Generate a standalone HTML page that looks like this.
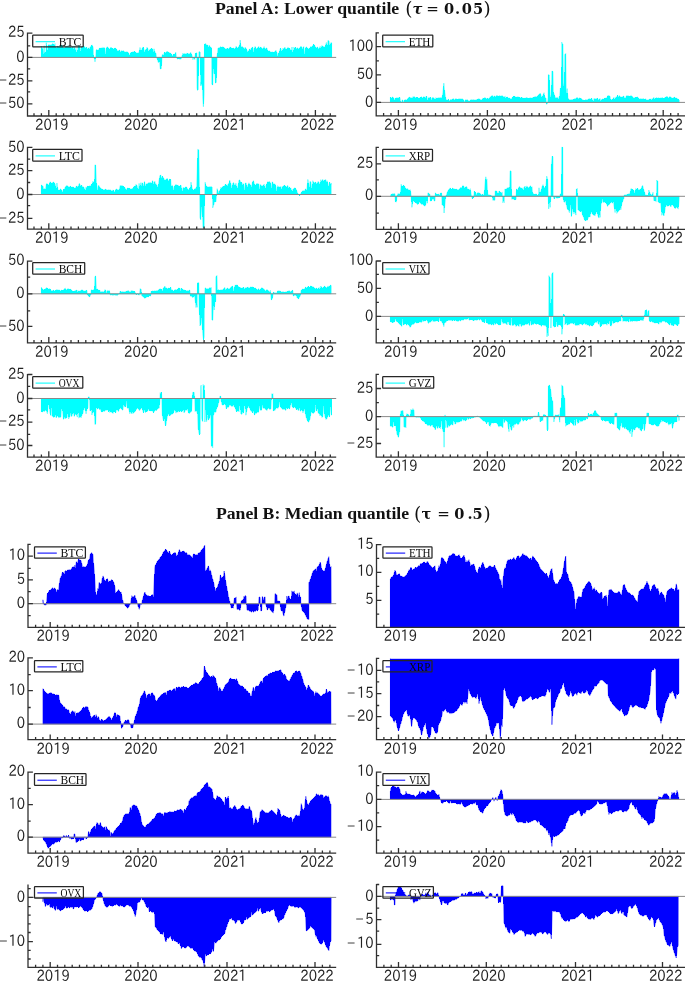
<!DOCTYPE html>
<html><head><meta charset="utf-8"><title>Quantile connectedness</title>
<style>
html,body{margin:0;padding:0;background:#fff}
svg{display:block}
.t{font-family:"Liberation Serif",serif;font-weight:bold;font-size:16.8px;fill:#111}
.m{font-family:"DejaVu Serif","Liberation Serif",serif;font-weight:bold;font-size:14.6px;fill:#111}
.n{font-family:"IPAPGothic","Noto Sans CJK SC","Liberation Sans",sans-serif;font-weight:300;font-size:15.6px;fill:#222}
.l{font-family:"Liberation Serif",serif;font-size:11.6px;fill:#0a0a0a}
.ax{stroke:#303030;stroke-width:1.3;fill:none}
.zl{stroke:#8a8a8a;stroke-width:1;fill:none}
</style></head><body>
<svg width="685" height="982" viewBox="0 0 685 982">
<rect width="685" height="982" fill="#fff"/>
<text class="t" x="215.0" y="13.8" textLength="184.2" lengthAdjust="spacingAndGlyphs">Panel A: Lower quantile</text>
<text class="m"><tspan x="405.3" y="14.6" font-weight="normal" font-size="18.5">(</tspan><tspan x="412.6" y="13.9" font-style="italic">τ</tspan><tspan x="422.5" y="13.9"> </tspan><tspan x="426.2" y="14.1" font-weight="normal" font-size="15">=</tspan><tspan x="440.0" y="13.9"> </tspan><tspan x="443.9" y="13.9">0</tspan><tspan x="455.0" y="13.9">.</tspan><tspan x="461.7" y="13.9">0</tspan><tspan x="472.9" y="13.9">5</tspan><tspan x="483.4" y="14.6" font-weight="normal" font-size="18.5">)</tspan></text>
<text class="t" x="215.9" y="519.1" textLength="193.2" lengthAdjust="spacingAndGlyphs">Panel B: Median quantile</text>
<text class="m"><tspan x="413.9" y="519.9" font-weight="normal" font-size="18.5">(</tspan><tspan x="421.4" y="519.2">τ</tspan><tspan x="433.0" y="519.2"> </tspan><tspan x="437.2" y="519.4" font-weight="normal" font-size="15">=</tspan><tspan x="451.0" y="519.2"> </tspan><tspan x="454.3" y="519.2">0</tspan><tspan x="467.6" y="519.2">.</tspan><tspan x="472.6" y="519.2">5</tspan><tspan x="483.6" y="519.9" font-weight="normal" font-size="18.5">)</tspan></text>
<g>
<path d="M41.4 57.4L41.4 57.2L41.4 46.0L41.8 51.4L42.7 47.9L43.6 54.7L44.2 45.7L44.5 53.0L45.4 51.8L45.9 51.5L46.3 42.7L47.2 53.1L48.1 45.6L49.0 44.4L49.9 46.2L50.8 44.5L51.7 44.6L52.6 43.4L53.5 44.2L54.4 44.8L55.0 43.6L55.4 46.7L56.2 48.6L57.1 46.5L58.0 46.2L58.9 47.2L59.8 46.5L60.7 46.3L61.6 45.4L62.0 45.5L62.5 46.5L63.4 48.0L64.3 47.9L65.2 48.3L66.1 46.0L67.0 47.7L67.9 45.6L68.8 48.1L69.7 47.2L70.8 47.3L71.5 48.1L72.4 46.8L73.3 49.7L74.2 45.9L75.1 51.3L76.0 48.3L76.9 55.2L77.8 48.0L78.7 45.5L79.6 46.5L80.5 50.7L81.4 47.0L82.3 48.5L83.2 46.1L84.1 46.0L84.8 46.9L85.9 48.2L86.6 47.3L87.7 48.8L88.6 48.0L89.5 49.4L90.1 47.4L91.3 45.5L92.2 45.0L93.2 47.9L93.6 57.2L94.0 58.0L94.4 58.7L95.0 61.8L95.7 58.0L96.2 50.5L96.7 49.3L97.6 50.5L98.8 49.3L99.4 48.3L100.3 48.3L101.2 48.4L102.3 47.4L103.0 49.0L103.9 47.2L104.8 48.5L105.7 55.2L106.6 47.3L107.6 46.9L108.4 48.2L109.3 49.7L110.2 48.1L111.1 47.0L112.0 48.9L112.9 48.2L113.8 49.6L114.6 48.2L115.6 48.2L116.5 49.3L117.4 50.5L118.3 50.7L119.2 50.1L120.1 50.7L121.0 53.2L121.6 50.5L122.8 51.3L123.7 50.7L124.6 51.8L125.5 52.1L126.4 51.9L127.3 52.0L128.6 52.8L129.1 55.3L130.0 55.1L130.9 52.3L131.8 52.6L132.7 52.0L133.9 52.0L134.5 51.3L135.4 52.3L136.3 52.9L137.2 53.0L138.1 53.2L139.1 51.8L140.0 48.2L140.0 47.5L140.8 51.8L141.7 49.9L142.6 47.4L143.5 47.4L144.4 52.6L145.3 49.7L146.2 50.0L147.0 47.3L148.0 49.1L148.9 52.9L149.8 49.3L150.7 49.4L151.6 48.0L152.5 49.4L153.4 52.5L154.0 48.8L155.2 53.0L155.8 53.0L156.6 57.2L157.5 59.7L158.4 62.6L158.8 61.7L159.6 61.5L160.3 68.9L161.4 68.6L161.9 58.0L162.4 54.4L163.3 55.5L164.5 52.3L165.1 52.9L166.0 52.5L167.2 51.0L167.8 52.1L168.7 52.4L169.8 52.9L170.5 53.3L171.4 53.9L172.3 56.5L173.2 54.5L174.1 54.4L175.0 54.4L175.7 52.3L176.4 56.4L177.1 58.7L177.7 59.0L178.6 58.6L179.5 59.0L180.4 59.0L181.2 59.0L182.0 56.2L182.9 53.2L184.0 54.7L184.9 53.2L185.8 54.7L186.7 53.2L187.6 53.5L188.5 53.7L189.4 53.7L190.3 52.8L190.8 52.5L191.2 53.4L192.2 56.2L192.9 59.7L193.9 57.7L194.7 59.5L195.4 53.5L196.8 52.8L197.1 88.0L197.5 90.4L198.3 89.5L198.9 52.1L199.3 51.4L200.3 52.3L200.6 85.7L201.1 82.0L201.8 85.5L202.2 78.9L202.7 96.8L203.4 106.7L204.1 93.9L204.5 44.2L205.7 43.5L206.5 45.4L207.4 45.0L208.3 47.8L209.2 45.1L210.1 47.1L211.0 47.6L211.5 47.7L211.8 84.3L212.7 84.9L213.2 64.6L213.9 73.5L215.0 73.6L215.5 83.0L216.4 82.4L217.1 56.3L218.0 48.1L219.1 48.0L220.0 47.3L220.6 46.5L221.8 47.7L222.7 46.9L223.6 47.4L224.5 48.0L225.4 48.8L226.3 49.2L227.2 48.0L228.1 49.0L229.0 49.0L229.9 47.0L231.1 47.7L231.7 48.2L232.6 48.5L233.5 48.2L234.4 48.6L235.3 48.4L236.2 46.3L237.1 49.3L238.0 47.2L239.0 47.1L239.9 43.9L240.2 40.1L240.7 45.4L241.6 47.2L242.5 46.7L243.4 47.4L244.3 49.5L245.2 47.2L246.0 48.4L247.0 50.3L247.7 52.2L248.8 50.4L249.5 49.1L250.6 49.9L251.5 47.9L252.1 47.5L252.8 47.3L253.3 53.2L254.2 48.5L255.1 46.5L256.0 48.6L256.9 49.0L258.0 47.2L258.7 46.5L259.6 48.6L260.7 47.2L261.4 47.4L262.3 48.4L263.2 48.9L264.1 46.6L265.0 50.1L265.9 48.1L266.8 48.0L267.7 50.6L268.6 51.2L269.5 50.8L270.4 52.2L271.3 52.2L272.0 52.2L273.1 52.0L273.8 52.8L274.9 51.3L275.9 50.3L276.7 51.9L277.6 56.6L278.5 53.2L279.1 52.5L280.5 48.1L281.2 49.5L282.1 52.5L283.0 48.1L283.9 49.7L284.8 47.1L285.7 49.0L286.6 49.4L287.8 47.4L288.4 47.8L289.3 48.3L290.2 48.8L291.1 53.0L292.0 47.0L292.9 55.2L293.8 47.2L294.7 48.3L295.6 47.3L296.5 48.9L297.4 47.8L298.3 48.6L299.2 48.9L300.1 47.3L301.0 46.1L301.9 47.3L302.8 49.4L303.7 46.6L304.6 55.0L305.5 47.8L306.4 46.9L307.1 47.5L308.2 49.2L309.1 48.3L310.0 48.5L310.9 46.4L311.8 47.4L312.3 46.4L313.6 44.3L314.1 45.0L314.5 45.1L315.4 47.3L316.3 47.7L317.6 47.0L318.1 48.9L319.0 48.5L320.2 46.4L320.8 50.1L321.7 45.7L322.6 46.2L323.5 46.5L324.4 47.7L325.5 45.4L326.4 42.5L327.1 49.5L328.0 40.3L329.0 41.0L329.8 46.7L330.7 42.8L331.6 42.7L331.6 57.2L331.6 57.4Z" fill="#00ffff" stroke="#00ffff" stroke-width="0.5" stroke-linejoin="round" shape-rendering="crispEdges"/>
<path class="zl" d="M27.5 57.4H336.2"/>
<path class="ax" d="M27.5 32.5V116.0H336.2M27.5 33.1h4.9M27.5 57.4h4.9M27.5 80.8h4.9M27.5 103.9h4.9M27.5 45.9h2.7M27.5 68.8h2.7M27.5 91.9h2.7M48.8 116.0v-6.0M137.6 116.0v-6.0M226.3 116.0v-6.0M315.4 116.0v-6.0M41.4 116.0v-2.8M34.0 116.0v-2.8M56.2 116.0v-2.8M63.6 116.0v-2.8M71.0 116.0v-2.8M78.4 116.0v-2.8M85.8 116.0v-2.8M93.2 116.0v-2.8M100.6 116.0v-2.8M108.0 116.0v-2.8M115.4 116.0v-2.8M122.8 116.0v-2.8M130.2 116.0v-2.8M145.0 116.0v-2.8M152.4 116.0v-2.8M159.8 116.0v-2.8M167.2 116.0v-2.8M174.6 116.0v-2.8M181.9 116.0v-2.8M189.3 116.0v-2.8M196.7 116.0v-2.8M204.1 116.0v-2.8M211.5 116.0v-2.8M218.9 116.0v-2.8M233.7 116.0v-2.8M241.2 116.0v-2.8M248.6 116.0v-2.8M256.0 116.0v-2.8M263.4 116.0v-2.8M270.9 116.0v-2.8M278.3 116.0v-2.8M285.7 116.0v-2.8M293.1 116.0v-2.8M300.5 116.0v-2.8M308.0 116.0v-2.8M322.8 116.0v-2.8M330.3 116.0v-2.8"/>
<text class="n" x="8.0" y="37.2" textLength="16.6" lengthAdjust="spacingAndGlyphs">25</text>
<text class="n" x="16.3" y="61.5" textLength="8.3" lengthAdjust="spacingAndGlyphs">0</text>
<text class="n" y="84.9"><tspan x="-1.3" textLength="8.3" lengthAdjust="spacingAndGlyphs">−</tspan><tspan x="8.0" textLength="16.6" lengthAdjust="spacingAndGlyphs">25</tspan></text>
<text class="n" y="108.0"><tspan x="-1.3" textLength="8.3" lengthAdjust="spacingAndGlyphs">−</tspan><tspan x="8.0" textLength="16.6" lengthAdjust="spacingAndGlyphs">50</tspan></text>
<text class="n" x="35.1" y="129.8" textLength="33.4" lengthAdjust="spacingAndGlyphs">2019</text>
<text class="n" x="124.1" y="129.8" textLength="33.4" lengthAdjust="spacingAndGlyphs">2020</text>
<text class="n" x="212.7" y="129.8" textLength="33.4" lengthAdjust="spacingAndGlyphs">2021</text>
<text class="n" x="300.6" y="129.8" textLength="33.4" lengthAdjust="spacingAndGlyphs">2022</text>
<rect x="32.7" y="35.0" width="50.5" height="11.9" fill="none" stroke="#262626" stroke-width="1.25" rx="0.6"/>
<path d="M35.6 41.7h19.4" stroke="#00ffff" stroke-width="1.05" fill="none"/>
<text class="l" x="58.7" y="45.6" textLength="22.6" lengthAdjust="spacingAndGlyphs">BTC</text>
</g>
<g>
<path d="M390.4 102.4L390.4 102.1L390.4 97.2L390.9 98.0L391.8 97.9L392.9 96.9L393.6 98.2L394.5 99.7L395.4 98.3L396.7 97.9L397.2 97.9L398.1 98.0L399.0 97.6L399.9 97.4L400.9 102.9L401.7 101.7L402.4 99.8L403.5 101.7L404.4 100.1L405.4 99.6L406.2 99.8L407.1 100.5L408.0 98.0L409.2 97.3L409.8 97.4L410.7 97.6L411.6 97.9L412.5 97.7L412.9 96.6L413.4 96.9L414.3 96.7L415.2 97.4L416.1 97.8L417.0 97.1L417.9 97.8L418.8 98.4L419.7 98.0L420.6 97.4L421.5 96.9L422.4 97.7L422.9 97.4L424.2 96.7L425.1 98.3L426.0 96.6L426.6 96.0L427.8 101.1L428.7 97.4L429.6 97.9L430.4 97.0L431.4 100.3L432.3 97.5L433.2 97.7L434.1 97.9L435.0 100.5L435.9 97.6L436.8 98.7L437.9 97.6L438.6 98.0L439.5 97.8L440.4 97.5L441.6 97.8L442.2 97.0L442.9 92.8L443.8 83.2L444.8 92.5L445.8 98.7L446.7 100.3L447.6 100.1L448.5 99.3L449.4 101.2L450.3 99.6L451.2 99.5L452.1 99.5L453.0 98.8L453.9 98.8L454.8 100.9L455.3 98.8L456.6 99.0L457.5 99.5L458.4 99.1L459.3 98.9L460.2 99.0L461.1 98.9L462.0 99.3L462.8 98.9L463.8 100.4L464.7 102.0L465.6 99.7L466.5 100.0L467.4 99.8L468.3 100.5L469.2 101.2L470.3 100.2L471.0 100.0L471.9 99.5L472.8 100.0L473.7 99.6L474.6 100.0L475.5 100.0L476.4 99.6L477.3 99.8L477.8 99.0L479.1 98.8L480.0 99.6L480.9 99.6L481.8 100.3L482.7 98.3L483.6 98.5L484.5 97.6L485.3 97.9L486.3 98.6L487.2 98.4L488.1 98.5L489.0 98.9L490.3 96.7L490.8 97.3L491.7 95.7L492.6 95.7L493.5 96.5L494.4 95.9L495.3 97.1L496.2 95.7L497.1 95.4L497.8 95.9L498.9 96.5L499.8 95.4L500.7 96.6L501.6 95.8L502.8 95.9L503.4 96.9L504.3 96.9L505.2 96.2L506.1 100.5L506.5 97.2L507.0 97.0L507.9 97.4L508.8 98.3L509.7 98.2L510.2 98.6L511.5 98.7L512.4 97.3L513.3 96.6L513.7 96.4L514.0 96.5L515.1 96.4L516.0 97.4L516.9 97.2L517.8 96.9L519.0 97.3L519.6 97.5L520.5 98.0L521.4 97.0L522.3 98.0L523.2 98.3L524.1 98.4L525.2 98.2L525.9 98.1L526.8 97.3L527.7 98.2L528.6 98.5L529.5 98.2L530.4 97.9L531.5 98.2L532.2 97.9L533.1 97.5L534.0 97.4L534.9 96.7L535.8 96.5L536.7 97.0L537.7 95.9L538.5 94.7L539.4 94.7L540.2 93.1L541.2 96.0L542.0 97.4L543.0 95.2L544.0 92.7L544.8 97.0L546.0 98.4L546.5 104.2L547.4 103.8L548.2 97.3L548.4 74.6L549.4 75.0L549.9 94.7L550.9 97.8L551.4 89.5L551.9 71.1L552.9 71.5L553.4 92.2L554.7 95.9L555.2 97.5L556.5 97.6L557.4 97.3L558.3 99.5L559.2 96.8L559.7 95.8L560.4 88.3L561.0 87.7L561.4 85.3L561.7 42.2L562.9 44.5L563.4 86.1L564.4 82.5L564.7 54.7L565.7 53.5L566.2 94.5L567.2 88.6L567.9 97.7L569.4 99.9L570.0 99.8L570.9 99.9L571.8 99.6L572.7 99.5L573.9 99.4L574.5 98.8L575.4 99.0L576.3 97.8L577.2 97.7L577.7 97.6L578.1 98.9L579.0 98.2L579.9 98.0L580.8 98.6L581.4 98.5L582.6 99.7L583.5 100.2L583.9 100.5L584.4 100.5L585.3 99.7L586.2 99.8L587.1 99.9L588.0 99.3L588.9 99.0L589.8 98.7L590.7 99.4L591.6 98.1L592.5 100.0L593.4 101.8L593.9 98.6L595.2 98.8L596.1 99.0L597.0 98.1L597.9 98.7L598.8 100.3L599.7 98.7L600.1 98.6L600.6 100.9L601.5 99.5L602.4 99.1L603.3 99.3L604.2 98.4L605.1 98.3L606.4 98.1L606.9 98.1L607.8 95.6L608.4 95.5L609.9 96.2L610.5 98.6L611.4 99.9L612.3 99.7L613.2 98.6L613.9 97.4L615.0 100.6L615.9 96.9L616.8 97.4L617.6 95.2L618.6 96.7L619.5 95.6L620.4 97.2L621.3 97.2L622.2 97.0L623.1 96.4L623.8 96.2L624.9 98.6L625.8 97.2L626.7 95.6L627.6 95.9L628.8 96.0L629.4 96.4L630.3 96.1L631.2 95.4L632.1 96.4L633.0 96.9L633.9 99.2L634.8 97.3L635.7 97.5L636.3 97.5L637.5 96.9L638.4 98.2L639.3 99.1L640.2 98.7L641.1 99.0L642.0 98.9L642.9 99.0L643.8 98.6L644.7 99.6L645.6 98.7L646.5 100.2L647.5 100.0L648.3 100.3L649.2 99.0L650.1 99.8L651.0 98.7L651.9 100.5L652.8 98.4L653.8 97.4L654.6 99.1L655.5 98.4L656.4 97.6L657.3 98.3L658.2 97.7L659.1 98.5L660.0 98.1L661.3 98.1L661.8 97.8L662.7 97.6L663.6 98.6L664.5 97.9L665.4 97.5L666.3 96.5L667.2 96.5L668.1 97.3L669.0 98.3L669.9 96.4L670.8 97.6L671.7 97.6L672.6 98.3L673.8 97.4L674.4 97.2L675.3 98.1L676.2 98.2L677.1 98.3L677.5 98.7L678.0 99.0L679.3 100.0L679.3 102.1L679.3 102.4Z" fill="#00ffff" stroke="#00ffff" stroke-width="0.5" stroke-linejoin="round" shape-rendering="crispEdges"/>
<path class="zl" d="M376.2 102.4H686.0"/>
<path class="ax" d="M376.2 32.2V115.9H686.0M376.2 46.7h4.9M376.2 74.9h4.9M376.2 102.4h4.9M376.2 60.8h2.7M376.2 88.4h2.7M376.2 32.9h2.7M398.4 115.9v-6.0M487.4 115.9v-6.0M576.2 115.9v-6.0M663.2 115.9v-6.0M391.0 115.9v-2.8M383.6 115.9v-2.8M405.8 115.9v-2.8M413.2 115.9v-2.8M420.6 115.9v-2.8M428.1 115.9v-2.8M435.5 115.9v-2.8M442.9 115.9v-2.8M450.3 115.9v-2.8M457.7 115.9v-2.8M465.1 115.9v-2.8M472.6 115.9v-2.8M480.0 115.9v-2.8M494.8 115.9v-2.8M502.2 115.9v-2.8M509.6 115.9v-2.8M517.0 115.9v-2.8M524.4 115.9v-2.8M531.8 115.9v-2.8M539.2 115.9v-2.8M546.6 115.9v-2.8M554.0 115.9v-2.8M561.4 115.9v-2.8M568.8 115.9v-2.8M583.5 115.9v-2.8M590.7 115.9v-2.8M598.0 115.9v-2.8M605.2 115.9v-2.8M612.5 115.9v-2.8M619.7 115.9v-2.8M627.0 115.9v-2.8M634.2 115.9v-2.8M641.5 115.9v-2.8M648.7 115.9v-2.8M656.0 115.9v-2.8M670.7 115.9v-2.8M678.1 115.9v-2.8"/>
<text class="n" x="348.4" y="50.8" textLength="24.9" lengthAdjust="spacingAndGlyphs">100</text>
<text class="n" x="356.7" y="79.0" textLength="16.6" lengthAdjust="spacingAndGlyphs">50</text>
<text class="n" x="365.0" y="106.5" textLength="8.3" lengthAdjust="spacingAndGlyphs">0</text>
<text class="n" x="384.1" y="129.7" textLength="33.4" lengthAdjust="spacingAndGlyphs">2019</text>
<text class="n" x="472.5" y="129.7" textLength="33.4" lengthAdjust="spacingAndGlyphs">2020</text>
<text class="n" x="561.5" y="129.7" textLength="33.4" lengthAdjust="spacingAndGlyphs">2021</text>
<text class="n" x="649.4" y="129.7" textLength="33.4" lengthAdjust="spacingAndGlyphs">2022</text>
<rect x="382.7" y="35.0" width="50.1" height="11.9" fill="none" stroke="#262626" stroke-width="1.25" rx="0.6"/>
<path d="M385.6 41.7h19.4" stroke="#00ffff" stroke-width="1.05" fill="none"/>
<text class="l" x="408.7" y="45.6" textLength="21.6" lengthAdjust="spacingAndGlyphs">ETH</text>
</g>
<g>
<path d="M41.4 194.5L41.4 194.4L41.4 185.0L41.9 185.4L42.9 186.0L43.7 189.3L44.9 188.7L45.5 189.5L46.4 184.4L46.9 183.4L48.2 185.0L49.1 185.0L49.9 181.9L50.9 182.4L51.8 183.7L52.9 182.1L53.6 182.0L54.5 183.3L55.4 184.8L56.3 191.2L56.9 183.0L57.9 189.3L59.0 190.6L59.9 189.5L60.8 188.9L61.7 190.4L62.6 192.3L63.5 189.4L64.4 189.5L65.4 186.7L66.2 185.7L67.1 186.0L68.0 185.9L68.9 187.7L69.8 186.4L70.7 186.3L71.6 187.6L72.4 187.2L73.4 187.0L74.3 188.2L75.2 188.5L76.1 186.4L77.4 186.2L77.9 188.9L78.8 184.6L79.4 183.4L80.6 186.2L81.5 185.1L82.4 186.5L83.3 186.9L84.2 187.6L85.1 192.5L86.0 186.9L86.9 188.1L87.4 186.2L87.8 186.4L88.7 186.5L89.6 186.0L90.5 186.5L91.1 184.8L92.3 183.6L92.9 181.3L94.4 183.1L94.9 164.9L95.6 165.0L96.4 182.1L96.8 185.3L97.7 191.4L98.6 185.2L99.9 187.2L100.4 187.9L101.3 188.9L102.3 189.3L103.1 189.7L104.0 190.1L104.9 189.5L105.8 189.3L106.7 189.7L107.6 190.2L108.5 189.8L109.4 190.0L109.8 190.0L110.3 190.0L111.2 190.5L112.1 191.0L113.0 189.9L113.9 190.8L114.8 192.5L115.7 189.4L116.6 189.2L117.5 189.5L118.4 190.0L119.3 189.4L120.3 185.4L121.1 186.2L122.0 185.2L122.9 187.0L123.6 186.4L124.8 187.6L125.6 189.0L126.5 190.1L127.4 188.0L128.3 188.4L129.2 188.2L130.1 189.1L131.0 188.8L131.9 189.5L132.3 188.2L132.8 189.2L133.7 186.8L134.6 186.3L135.5 185.6L136.0 184.4L137.3 186.1L138.2 191.9L139.1 183.4L140.0 188.4L140.9 182.7L141.8 187.0L142.3 182.8L143.6 186.6L144.5 181.6L145.4 186.8L146.3 183.9L147.2 184.0L148.1 182.8L149.0 183.1L149.8 182.5L150.8 182.6L151.7 183.6L152.6 180.7L153.5 183.7L154.8 181.3L155.3 183.8L156.2 183.8L157.1 188.4L158.0 185.0L158.5 184.2L159.8 175.9L160.7 174.9L161.6 178.4L162.5 176.3L163.5 178.0L164.3 179.4L165.2 180.2L166.1 179.5L167.2 178.3L167.9 180.9L168.8 180.5L169.7 179.1L170.7 179.6L171.0 185.5L171.5 185.8L172.4 185.3L173.3 191.0L174.2 186.3L175.1 185.7L176.0 184.3L176.9 186.1L177.8 184.9L178.7 186.0L179.6 186.4L180.5 185.4L181.0 185.2L182.3 192.3L183.2 187.4L184.1 188.1L185.0 188.0L186.0 186.7L186.8 187.6L187.7 188.9L188.6 190.1L189.5 188.5L190.5 187.2L191.0 182.2L192.2 189.1L193.1 189.5L194.0 190.6L194.9 188.5L196.0 188.6L196.7 185.8L197.2 172.9L197.7 149.4L198.7 149.7L199.2 171.9L199.7 194.4L200.0 217.4L200.7 219.9L201.5 206.7L202.5 216.7L203.0 227.7L204.2 227.6L204.7 194.4L205.2 182.3L205.7 185.4L206.4 185.8L207.5 187.1L208.4 187.1L209.3 186.8L210.2 186.8L211.1 186.5L212.2 187.1L212.4 194.4L212.7 207.8L213.9 204.4L214.7 201.2L215.9 201.9L216.7 194.4L217.2 188.7L218.3 193.8L219.2 190.6L220.1 191.1L220.9 187.3L221.9 188.3L222.8 186.3L223.7 186.5L224.7 185.6L225.5 184.1L226.4 185.0L227.3 186.1L228.4 183.5L229.1 183.7L229.7 180.3L230.9 184.1L231.8 189.6L232.7 183.4L233.6 182.6L234.5 185.2L235.4 185.0L235.9 183.3L237.2 189.6L238.1 185.4L239.0 180.1L239.6 179.9L240.8 182.3L241.7 182.5L242.6 184.8L243.4 183.7L244.4 190.9L245.3 183.2L246.2 183.0L247.1 187.9L248.4 184.1L248.9 182.8L249.8 184.6L250.7 185.0L251.6 187.5L252.5 181.9L253.4 180.7L254.3 184.0L255.2 185.7L256.1 184.5L257.1 183.1L257.9 184.6L258.8 183.8L259.7 190.2L260.6 184.5L261.5 186.1L262.4 186.1L263.4 185.1L264.2 184.2L265.1 190.6L266.0 185.2L266.9 183.9L267.8 181.5L268.7 182.2L269.6 181.5L270.5 183.1L271.4 189.3L272.3 181.8L273.3 183.5L274.1 184.4L275.0 183.8L275.9 186.7L276.8 192.4L277.7 185.7L278.3 186.5L279.5 187.1L280.4 186.5L281.3 190.4L282.2 186.3L283.1 187.4L284.0 185.2L284.6 185.5L285.8 186.4L286.7 187.3L287.6 185.4L288.5 187.8L289.4 187.1L290.3 188.7L290.8 187.9L292.1 192.5L293.0 188.9L293.9 189.1L294.8 187.7L295.8 188.8L296.6 190.5L297.8 193.6L298.4 194.1L298.8 194.4L299.6 195.7L300.3 194.4L301.1 193.0L302.1 191.4L302.9 190.8L303.8 190.7L304.7 190.7L305.6 188.9L306.5 189.7L307.0 188.8L307.8 179.5L308.3 181.3L309.2 189.9L310.1 181.3L310.8 181.8L311.9 190.7L312.8 180.7L313.7 182.5L314.6 182.6L315.8 182.2L316.4 184.0L317.3 183.0L318.2 181.4L319.1 182.9L320.0 185.1L320.8 179.7L321.8 182.0L322.7 179.4L323.6 181.0L324.5 180.3L325.8 179.6L326.3 182.2L327.2 180.8L328.1 185.0L329.0 186.7L329.5 182.2L330.8 184.6L331.3 183.2L331.3 194.4L331.3 194.5Z" fill="#00ffff" stroke="#00ffff" stroke-width="0.5" stroke-linejoin="round" shape-rendering="crispEdges"/>
<path class="zl" d="M27.5 194.5H336.2"/>
<path class="ax" d="M27.5 146.8V229.2H336.2M27.5 147.4h4.9M27.5 170.6h4.9M27.5 194.5h4.9M27.5 218.4h4.9M27.5 159.2h2.7M27.5 182.5h2.7M27.5 205.7h2.7M48.8 229.2v-6.0M137.6 229.2v-6.0M226.3 229.2v-6.0M315.4 229.2v-6.0M41.4 229.2v-2.8M34.0 229.2v-2.8M56.2 229.2v-2.8M63.6 229.2v-2.8M71.0 229.2v-2.8M78.4 229.2v-2.8M85.8 229.2v-2.8M93.2 229.2v-2.8M100.6 229.2v-2.8M108.0 229.2v-2.8M115.4 229.2v-2.8M122.8 229.2v-2.8M130.2 229.2v-2.8M145.0 229.2v-2.8M152.4 229.2v-2.8M159.8 229.2v-2.8M167.2 229.2v-2.8M174.6 229.2v-2.8M181.9 229.2v-2.8M189.3 229.2v-2.8M196.7 229.2v-2.8M204.1 229.2v-2.8M211.5 229.2v-2.8M218.9 229.2v-2.8M233.7 229.2v-2.8M241.2 229.2v-2.8M248.6 229.2v-2.8M256.0 229.2v-2.8M263.4 229.2v-2.8M270.9 229.2v-2.8M278.3 229.2v-2.8M285.7 229.2v-2.8M293.1 229.2v-2.8M300.5 229.2v-2.8M308.0 229.2v-2.8M322.8 229.2v-2.8M330.3 229.2v-2.8"/>
<text class="n" x="8.0" y="151.5" textLength="16.6" lengthAdjust="spacingAndGlyphs">50</text>
<text class="n" x="8.0" y="174.7" textLength="16.6" lengthAdjust="spacingAndGlyphs">25</text>
<text class="n" x="16.3" y="198.6" textLength="8.3" lengthAdjust="spacingAndGlyphs">0</text>
<text class="n" y="222.5"><tspan x="-1.3" textLength="8.3" lengthAdjust="spacingAndGlyphs">−</tspan><tspan x="8.0" textLength="16.6" lengthAdjust="spacingAndGlyphs">25</tspan></text>
<text class="n" x="35.1" y="243.0" textLength="33.4" lengthAdjust="spacingAndGlyphs">2019</text>
<text class="n" x="124.1" y="243.0" textLength="33.4" lengthAdjust="spacingAndGlyphs">2020</text>
<text class="n" x="212.7" y="243.0" textLength="33.4" lengthAdjust="spacingAndGlyphs">2021</text>
<text class="n" x="300.6" y="243.0" textLength="33.4" lengthAdjust="spacingAndGlyphs">2022</text>
<rect x="32.7" y="149.4" width="49.3" height="11.6" fill="none" stroke="#262626" stroke-width="1.25" rx="0.6"/>
<path d="M35.6 155.9h19.4" stroke="#00ffff" stroke-width="1.05" fill="none"/>
<text class="l" x="58.7" y="159.8" textLength="21.2" lengthAdjust="spacingAndGlyphs">LTC</text>
</g>
<g>
<path d="M390.4 196.3L390.4 196.2L390.9 194.5L391.8 194.3L392.9 193.6L393.6 193.8L394.5 193.5L394.9 193.8L395.4 201.7L396.4 202.0L396.9 196.2L397.9 193.6L399.0 194.1L399.9 193.8L400.4 193.5L401.2 184.3L401.7 186.5L402.6 186.3L403.4 185.4L404.4 185.9L405.4 188.1L406.2 189.1L407.1 188.7L407.9 188.7L408.9 191.1L409.8 189.7L410.4 189.9L411.1 196.2L411.9 207.3L412.5 204.0L412.9 200.9L413.4 200.7L414.3 201.7L415.4 202.5L416.1 202.9L417.0 204.1L417.9 204.5L418.8 203.2L419.7 202.2L420.4 202.8L421.5 204.4L422.4 203.8L422.9 204.6L424.2 205.9L425.4 205.8L426.0 203.2L426.9 198.8L427.4 203.2L427.9 192.9L428.7 193.1L429.9 194.6L430.4 201.0L431.4 200.8L432.3 199.3L433.2 198.5L434.1 200.8L434.9 201.0L435.4 192.8L435.9 193.9L436.8 194.4L437.9 194.5L438.6 194.3L439.5 195.2L440.4 193.2L441.6 193.0L442.1 204.8L443.1 205.8L443.6 206.2L444.1 213.0L444.8 205.2L445.8 196.2L446.7 194.1L447.8 190.8L448.5 190.2L449.4 188.8L449.8 188.1L450.3 188.1L451.2 189.8L452.1 188.6L452.8 188.2L453.9 188.9L454.8 189.2L455.7 189.4L456.6 189.3L457.5 189.6L458.4 189.7L459.3 189.4L460.3 187.7L461.1 187.2L462.0 188.1L462.8 185.5L463.8 186.3L464.7 187.9L465.6 187.1L466.6 186.5L467.4 188.5L468.3 189.1L469.2 189.9L470.3 188.7L471.0 193.7L471.6 196.2L472.3 198.7L472.8 198.3L473.8 197.4L474.3 191.3L475.5 192.2L476.4 195.1L477.3 193.2L477.8 192.5L479.1 193.2L480.0 193.3L480.9 194.1L481.8 195.3L482.3 194.3L483.6 195.1L484.0 194.9L484.5 190.4L485.4 180.0L485.8 176.8L486.3 181.4L486.8 178.9L487.8 194.5L489.0 195.0L490.3 195.1L490.8 195.6L491.7 195.8L492.3 196.2L492.8 200.3L493.5 200.2L494.8 200.4L495.3 190.9L496.2 191.1L497.1 191.5L498.0 195.1L499.0 191.0L499.8 191.5L500.7 192.7L501.6 192.6L502.3 192.2L502.8 202.7L503.4 201.3L504.3 202.6L504.8 189.1L505.2 188.9L506.1 190.2L507.0 187.8L507.8 188.1L508.8 187.6L509.7 186.4L510.2 170.8L511.2 171.3L511.7 199.2L512.4 198.9L513.3 199.1L513.7 199.4L514.0 199.6L515.1 199.6L516.0 199.5L516.5 189.1L517.8 190.1L519.0 186.8L519.6 186.6L520.5 187.6L521.4 188.2L522.3 188.0L523.2 191.2L524.1 187.1L525.2 186.0L525.9 190.9L526.8 185.9L527.7 187.0L528.6 188.1L529.5 186.6L530.4 185.7L531.3 187.7L532.0 186.8L532.7 193.8L534.0 193.8L534.9 194.8L535.8 193.8L536.7 194.4L537.6 195.5L538.5 194.4L539.0 187.8L539.4 191.1L540.0 194.0L541.5 189.2L542.1 186.8L543.0 184.7L543.9 187.7L544.5 187.7L546.0 185.9L546.7 176.2L547.7 179.7L548.2 196.2L548.7 208.9L549.3 201.5L550.2 207.3L550.9 196.2L551.4 165.0L552.2 156.1L552.9 156.8L553.2 196.2L553.9 198.7L554.7 198.6L555.6 197.3L556.5 197.9L557.4 198.1L558.3 197.8L559.2 197.5L559.7 198.0L560.4 193.9L561.0 194.2L561.4 193.6L561.7 147.3L562.7 147.3L562.9 196.2L563.9 202.0L564.6 202.2L565.5 200.5L566.4 205.0L567.7 209.8L568.2 209.2L569.4 212.6L570.2 202.6L570.9 208.6L571.4 216.5L572.7 207.7L573.9 213.8L574.5 212.3L575.4 212.0L575.9 215.1L576.4 189.1L577.4 188.5L577.9 209.7L579.0 210.8L580.2 211.0L580.8 212.0L581.7 210.6L582.6 215.4L583.5 216.8L584.6 220.1L585.3 220.8L586.2 220.0L587.1 220.6L587.6 219.3L588.9 216.4L590.1 217.0L590.7 212.9L591.6 212.3L592.5 214.1L593.4 215.1L593.9 215.3L595.2 215.7L596.1 211.3L597.0 212.5L597.6 214.5L598.9 218.1L599.7 213.7L600.1 217.3L600.9 204.5L601.5 203.5L602.4 198.7L603.3 202.5L603.9 202.2L605.1 201.9L606.0 203.3L606.9 204.1L607.6 206.4L608.7 204.2L609.6 204.4L610.1 202.6L611.4 202.3L612.3 203.2L613.2 200.4L613.9 204.7L615.1 212.5L615.9 205.1L616.8 213.4L617.6 212.3L618.6 210.9L619.5 210.2L620.4 207.5L620.8 209.8L621.3 207.3L621.8 203.5L623.1 200.3L623.8 198.6L624.3 194.9L624.9 195.3L625.8 194.9L626.7 194.7L627.6 194.4L628.5 194.0L629.4 193.8L630.1 193.6L630.8 188.8L632.1 189.0L633.0 190.1L633.8 190.2L634.8 194.1L635.7 188.5L636.6 189.4L637.6 188.2L638.4 189.8L639.3 189.6L640.1 189.9L641.1 188.7L642.0 186.2L642.6 185.5L643.8 190.1L644.3 191.3L645.3 195.4L646.5 195.2L647.4 195.5L648.3 195.1L648.8 190.1L650.1 193.4L651.3 194.9L651.9 195.5L653.0 192.3L653.8 200.5L654.6 200.6L655.5 201.0L656.3 201.6L656.8 180.0L657.3 181.7L657.8 181.2L658.0 202.0L659.1 202.5L660.0 203.0L660.8 203.5L661.8 215.3L662.7 212.3L663.8 216.0L664.5 213.0L665.3 207.6L666.3 205.2L667.2 206.0L668.1 205.8L668.8 205.6L669.9 204.8L670.8 207.0L671.7 204.6L672.6 204.5L673.8 206.8L674.4 207.4L675.3 208.7L676.2 207.0L677.1 207.9L678.3 208.9L679.3 197.5L679.3 196.2L679.3 196.3Z" fill="#00ffff" stroke="#00ffff" stroke-width="0.5" stroke-linejoin="round" shape-rendering="crispEdges"/>
<path class="zl" d="M376.2 196.3H686.0"/>
<path class="ax" d="M376.2 146.7V229.3H686.0M376.2 163.9h4.9M376.2 196.3h4.9M376.2 179.9h2.7M376.2 213.1h2.7M376.2 147.3h2.7M398.4 229.3v-6.0M487.4 229.3v-6.0M576.2 229.3v-6.0M663.2 229.3v-6.0M391.0 229.3v-2.8M383.6 229.3v-2.8M405.8 229.3v-2.8M413.2 229.3v-2.8M420.6 229.3v-2.8M428.1 229.3v-2.8M435.5 229.3v-2.8M442.9 229.3v-2.8M450.3 229.3v-2.8M457.7 229.3v-2.8M465.1 229.3v-2.8M472.6 229.3v-2.8M480.0 229.3v-2.8M494.8 229.3v-2.8M502.2 229.3v-2.8M509.6 229.3v-2.8M517.0 229.3v-2.8M524.4 229.3v-2.8M531.8 229.3v-2.8M539.2 229.3v-2.8M546.6 229.3v-2.8M554.0 229.3v-2.8M561.4 229.3v-2.8M568.8 229.3v-2.8M583.5 229.3v-2.8M590.7 229.3v-2.8M598.0 229.3v-2.8M605.2 229.3v-2.8M612.5 229.3v-2.8M619.7 229.3v-2.8M627.0 229.3v-2.8M634.2 229.3v-2.8M641.5 229.3v-2.8M648.7 229.3v-2.8M656.0 229.3v-2.8M670.7 229.3v-2.8M678.1 229.3v-2.8"/>
<text class="n" x="356.7" y="168.0" textLength="16.6" lengthAdjust="spacingAndGlyphs">25</text>
<text class="n" x="365.0" y="200.4" textLength="8.3" lengthAdjust="spacingAndGlyphs">0</text>
<text class="n" x="384.1" y="243.1" textLength="33.4" lengthAdjust="spacingAndGlyphs">2019</text>
<text class="n" x="472.5" y="243.1" textLength="33.4" lengthAdjust="spacingAndGlyphs">2020</text>
<text class="n" x="561.5" y="243.1" textLength="33.4" lengthAdjust="spacingAndGlyphs">2021</text>
<text class="n" x="649.4" y="243.1" textLength="33.4" lengthAdjust="spacingAndGlyphs">2022</text>
<rect x="382.7" y="149.4" width="49.8" height="11.6" fill="none" stroke="#262626" stroke-width="1.25" rx="0.6"/>
<path d="M385.6 155.9h19.4" stroke="#00ffff" stroke-width="1.05" fill="none"/>
<text class="l" x="408.7" y="159.8" textLength="21.4" lengthAdjust="spacingAndGlyphs">XRP</text>
</g>
<g>
<path d="M41.4 293.8L41.4 293.4L41.4 287.3L41.9 288.8L42.8 289.0L43.7 290.0L44.6 289.4L45.5 289.0L46.2 287.8L47.3 288.1L48.2 289.2L49.1 289.1L49.9 288.7L50.9 290.0L51.8 290.8L52.4 290.6L53.6 290.4L54.5 290.9L55.4 290.5L56.3 289.8L57.4 289.9L58.1 290.0L59.0 290.4L59.9 290.2L60.8 290.9L61.7 290.2L62.4 290.5L63.5 290.3L64.4 288.6L65.4 288.2L66.2 291.3L67.1 289.0L68.0 288.9L68.9 288.9L69.9 289.7L70.7 289.2L71.6 290.4L72.5 291.1L73.4 291.5L74.3 291.3L74.9 290.6L76.1 290.5L77.0 290.0L77.9 292.7L78.8 290.6L79.7 291.4L80.6 290.5L81.5 290.2L82.4 289.9L83.3 290.8L84.2 291.2L85.1 291.0L86.0 290.4L86.9 290.5L87.4 295.1L87.8 294.5L88.7 296.2L89.4 297.1L90.9 294.7L91.4 289.8L92.3 290.4L93.2 289.9L94.4 289.3L94.9 276.6L95.6 276.0L96.4 288.6L96.8 288.9L97.7 289.2L98.6 290.5L99.9 290.3L100.4 291.6L101.3 291.7L102.2 291.3L103.1 292.0L104.0 292.0L104.8 289.7L105.8 290.4L106.7 293.2L107.6 290.4L108.5 290.8L109.3 290.4L110.3 295.1L111.2 294.7L112.1 295.0L113.0 295.5L113.9 294.9L114.8 294.9L115.7 295.4L116.6 295.5L117.3 295.7L118.4 294.5L119.3 293.9L120.3 291.0L121.1 292.0L122.0 291.9L122.9 291.5L123.8 292.0L124.8 291.9L125.6 291.5L126.5 291.4L127.4 291.0L128.6 290.6L129.2 291.0L130.1 292.8L131.0 290.5L131.9 291.1L132.8 290.8L133.7 291.4L134.8 291.5L135.5 293.0L136.3 295.0L137.3 293.7L138.2 294.5L139.3 295.1L140.3 288.6L141.3 289.7L141.8 296.0L142.7 296.6L143.6 296.6L144.3 298.1L145.4 298.1L146.3 297.2L147.3 296.6L148.1 297.0L149.0 296.2L149.9 295.4L150.5 296.2L151.3 291.1L151.7 291.5L152.6 291.0L153.5 291.3L154.4 290.9L155.3 291.1L156.0 290.9L157.1 290.6L158.0 290.4L158.9 289.6L159.8 289.1L161.0 289.0L161.6 289.5L162.5 291.2L163.4 287.8L164.3 287.9L164.8 286.0L165.2 288.0L166.1 287.5L167.0 288.6L167.9 288.8L168.5 288.0L169.7 288.5L170.7 287.2L171.0 288.7L171.5 289.5L172.4 289.8L173.3 291.5L174.2 290.3L175.1 289.6L176.0 289.5L176.9 290.3L177.8 288.8L178.7 288.2L179.6 288.3L180.5 291.3L181.0 288.3L182.3 288.8L183.2 290.0L184.1 290.1L185.0 290.3L186.0 290.7L186.8 290.8L187.7 290.6L188.6 290.6L189.7 290.1L190.5 296.2L191.3 295.9L192.2 297.2L193.0 297.6L194.0 296.1L194.7 296.1L196.0 307.5L196.7 304.4L197.2 307.3L197.5 282.9L198.7 282.6L199.2 307.8L200.0 325.9L201.0 323.2L201.7 315.9L202.7 333.3L203.5 339.6L204.2 336.9L204.7 293.4L205.2 287.9L205.7 287.9L206.6 289.1L207.5 288.7L208.4 288.7L209.3 287.9L210.2 287.9L211.4 287.6L211.9 319.9L212.7 320.3L213.4 304.8L214.2 310.0L214.9 302.4L215.7 301.3L215.9 277.2L216.5 275.9L216.9 275.5L217.4 289.7L218.3 289.5L219.2 290.3L220.1 290.3L220.9 289.9L221.9 290.0L222.8 290.0L223.7 288.5L224.7 287.4L225.5 290.2L226.4 288.8L227.3 288.2L228.4 288.8L229.1 289.0L230.0 288.6L230.9 286.9L232.2 286.3L232.7 286.3L233.6 292.0L234.5 287.1L235.4 284.9L235.9 285.6L237.2 284.9L238.1 286.5L239.0 286.7L239.9 288.0L240.9 287.5L241.7 288.6L242.6 288.1L243.5 287.0L244.4 288.8L245.3 288.1L245.9 287.7L247.1 287.9L248.0 286.9L248.9 288.3L249.8 287.9L250.9 286.7L251.6 287.6L252.5 287.1L253.4 287.4L254.3 288.2L255.2 288.0L256.1 288.8L257.1 289.7L257.9 289.4L258.8 288.7L259.7 290.6L260.6 289.3L261.5 287.8L262.1 288.0L263.3 288.7L264.2 289.0L265.1 292.1L266.0 289.9L267.1 290.0L267.8 290.0L268.7 290.8L269.6 292.3L270.4 290.4L271.3 299.8L272.3 299.1L273.3 292.3L274.1 292.7L275.0 292.7L275.9 293.1L276.8 293.1L277.7 290.9L278.3 290.9L279.5 291.0L280.4 291.3L281.3 292.0L282.2 291.9L283.3 291.8L284.0 292.2L284.9 292.4L285.8 291.9L286.7 291.8L287.6 291.4L288.3 291.1L289.4 290.8L290.3 291.4L291.2 291.9L292.1 290.3L292.8 290.5L293.3 296.0L293.9 295.6L294.8 295.4L295.8 295.0L296.6 296.4L297.1 297.7L297.5 298.2L298.4 298.6L298.8 298.7L299.3 297.0L300.3 296.2L301.3 290.0L302.0 289.6L302.9 289.0L303.8 289.4L304.7 288.4L305.8 287.0L306.5 287.7L307.4 287.7L308.3 286.1L309.2 287.7L310.1 287.1L310.8 285.8L311.9 286.9L312.8 286.7L313.7 287.1L314.6 288.4L315.8 288.7L316.4 288.0L317.3 288.9L318.2 288.8L319.1 287.5L320.0 290.7L320.8 286.0L321.8 287.7L322.7 288.0L323.6 287.4L324.5 286.2L325.8 287.2L326.3 287.9L327.2 287.0L328.1 285.9L329.0 287.3L329.9 285.6L330.8 285.1L331.3 286.0L331.3 293.4L331.3 293.8Z" fill="#00ffff" stroke="#00ffff" stroke-width="0.5" stroke-linejoin="round" shape-rendering="crispEdges"/>
<path class="zl" d="M27.5 293.8H336.2"/>
<path class="ax" d="M27.5 260.6V342.9H336.2M27.5 261.2h4.9M27.5 293.8h4.9M27.5 326.4h4.9M27.5 277.2h2.7M27.5 310.8h2.7M48.8 342.9v-6.0M137.6 342.9v-6.0M226.3 342.9v-6.0M315.4 342.9v-6.0M41.4 342.9v-2.8M34.0 342.9v-2.8M56.2 342.9v-2.8M63.6 342.9v-2.8M71.0 342.9v-2.8M78.4 342.9v-2.8M85.8 342.9v-2.8M93.2 342.9v-2.8M100.6 342.9v-2.8M108.0 342.9v-2.8M115.4 342.9v-2.8M122.8 342.9v-2.8M130.2 342.9v-2.8M145.0 342.9v-2.8M152.4 342.9v-2.8M159.8 342.9v-2.8M167.2 342.9v-2.8M174.6 342.9v-2.8M181.9 342.9v-2.8M189.3 342.9v-2.8M196.7 342.9v-2.8M204.1 342.9v-2.8M211.5 342.9v-2.8M218.9 342.9v-2.8M233.7 342.9v-2.8M241.2 342.9v-2.8M248.6 342.9v-2.8M256.0 342.9v-2.8M263.4 342.9v-2.8M270.9 342.9v-2.8M278.3 342.9v-2.8M285.7 342.9v-2.8M293.1 342.9v-2.8M300.5 342.9v-2.8M308.0 342.9v-2.8M322.8 342.9v-2.8M330.3 342.9v-2.8"/>
<text class="n" x="8.0" y="265.3" textLength="16.6" lengthAdjust="spacingAndGlyphs">50</text>
<text class="n" x="16.3" y="297.9" textLength="8.3" lengthAdjust="spacingAndGlyphs">0</text>
<text class="n" y="330.5"><tspan x="-1.3" textLength="8.3" lengthAdjust="spacingAndGlyphs">−</tspan><tspan x="8.0" textLength="16.6" lengthAdjust="spacingAndGlyphs">50</tspan></text>
<text class="n" x="35.1" y="356.7" textLength="33.4" lengthAdjust="spacingAndGlyphs">2019</text>
<text class="n" x="124.1" y="356.7" textLength="33.4" lengthAdjust="spacingAndGlyphs">2020</text>
<text class="n" x="212.7" y="356.7" textLength="33.4" lengthAdjust="spacingAndGlyphs">2021</text>
<text class="n" x="300.6" y="356.7" textLength="33.4" lengthAdjust="spacingAndGlyphs">2022</text>
<rect x="32.7" y="262.5" width="52.0" height="11.6" fill="none" stroke="#262626" stroke-width="1.25" rx="0.6"/>
<path d="M35.6 269.0h19.4" stroke="#00ffff" stroke-width="1.05" fill="none"/>
<text class="l" x="58.7" y="272.9" textLength="23.6" lengthAdjust="spacingAndGlyphs">BCH</text>
</g>
<g>
<path d="M390.4 316.4L390.4 316.4L390.4 321.4L390.9 322.1L391.8 321.9L392.9 323.0L393.6 322.3L394.5 321.9L395.4 318.5L396.7 321.8L397.2 321.2L398.1 322.4L399.2 323.7L399.9 324.7L400.8 324.7L401.7 326.4L402.6 318.7L403.5 324.9L404.2 324.6L405.3 323.6L406.2 323.7L406.7 325.3L407.1 323.7L408.0 324.4L408.9 324.7L409.9 327.3L410.7 326.7L411.6 325.1L412.5 323.7L412.9 324.6L413.4 324.0L414.3 323.8L415.2 321.7L416.1 323.1L417.0 322.4L417.9 322.9L418.8 322.4L419.7 322.0L420.6 322.0L421.5 322.4L422.4 320.1L422.9 321.5L424.2 320.7L425.1 320.9L426.0 320.4L426.6 319.7L427.8 322.0L428.4 323.4L429.6 322.4L430.5 322.2L431.4 321.1L432.3 319.4L432.9 321.5L434.1 321.1L435.0 321.9L435.9 320.4L436.8 320.8L437.9 320.8L438.6 321.7L439.5 317.5L440.4 320.9L441.3 321.0L442.2 322.7L442.9 322.9L443.8 326.6L444.8 322.0L445.8 322.6L446.7 320.6L447.6 320.5L448.5 320.4L449.4 320.4L450.3 320.5L451.2 320.2L452.1 321.1L453.0 320.2L453.9 319.9L454.8 320.9L455.7 319.9L456.6 321.1L457.8 321.2L458.4 321.4L459.3 320.1L460.2 321.0L461.1 320.6L462.0 319.5L462.9 320.1L463.8 319.8L464.7 319.1L465.3 319.3L466.5 319.4L467.4 319.1L468.3 317.4L469.2 320.2L470.1 319.6L471.0 319.6L471.9 319.5L472.8 320.5L473.7 320.5L474.6 320.2L475.5 319.8L476.4 320.1L477.3 320.2L478.2 319.3L479.0 319.8L480.0 320.1L480.9 318.3L481.8 321.2L482.8 321.8L483.6 322.0L484.5 322.6L485.4 318.4L486.3 322.6L487.2 322.7L487.8 323.7L489.0 324.5L489.9 324.1L490.8 324.1L491.7 324.8L492.6 324.4L493.5 325.1L494.4 323.3L495.3 324.5L496.2 323.2L497.1 323.5L498.0 324.2L498.9 324.9L499.8 324.7L500.7 324.5L501.6 318.2L502.8 323.4L503.4 323.5L504.3 323.1L505.2 323.6L506.1 323.0L507.0 325.0L507.9 319.5L509.0 324.1L509.7 324.9L510.6 325.3L511.5 318.3L512.4 325.7L513.3 323.6L513.7 325.5L514.0 324.7L515.1 323.7L516.0 326.5L516.9 325.5L517.8 324.7L519.0 326.5L519.6 324.1L520.5 324.3L521.4 326.6L522.3 324.9L523.2 325.2L524.1 325.3L525.2 324.3L525.9 324.3L526.8 324.4L527.7 323.9L528.6 323.2L529.5 325.5L530.4 320.0L531.5 325.2L532.2 324.1L533.1 324.6L534.0 324.2L534.9 322.8L535.8 324.2L536.5 324.5L537.6 323.5L538.5 324.4L539.4 324.6L540.3 324.6L541.5 326.4L542.1 324.5L543.0 324.8L543.9 325.8L544.8 325.0L545.2 326.2L545.7 324.8L546.5 326.8L547.0 336.8L547.5 333.1L548.4 335.7L548.7 316.4L548.9 275.7L550.2 278.6L550.7 316.4L550.9 328.0L551.4 316.4L551.7 274.4L552.9 272.5L553.2 316.4L553.4 326.2L554.7 326.9L555.6 326.5L556.5 322.3L557.7 327.0L558.3 324.7L559.2 324.1L560.1 325.4L561.0 325.6L561.4 325.3L561.9 334.3L562.7 326.9L563.2 316.4L563.4 314.4L564.4 314.7L564.7 316.4L564.9 324.8L565.5 323.5L566.4 323.1L567.3 325.2L568.2 324.3L569.1 324.7L570.2 323.5L570.9 323.2L571.8 323.3L572.7 323.1L573.6 324.1L574.5 323.3L575.4 325.4L576.4 325.2L577.2 325.7L578.1 324.1L579.0 325.4L579.9 323.5L580.8 323.9L581.7 324.5L582.6 324.8L583.5 324.0L583.9 323.8L584.4 322.8L585.3 324.7L586.2 323.3L587.1 325.3L588.0 324.3L588.9 325.7L589.8 326.1L590.7 324.5L591.4 325.6L592.5 325.8L593.4 325.1L594.3 322.9L595.2 322.3L596.4 322.8L597.0 319.0L597.9 322.9L598.8 324.4L599.7 321.5L600.1 326.4L600.6 326.8L601.5 325.6L602.4 323.9L603.3 324.7L604.2 323.5L605.1 324.3L606.0 322.9L606.9 325.2L607.8 321.9L608.7 324.1L609.6 320.5L610.5 325.8L611.4 326.0L612.3 319.8L613.2 323.5L614.1 322.8L615.1 322.3L615.9 322.0L616.8 321.6L617.7 322.6L618.6 321.8L619.5 320.8L620.4 320.9L620.8 321.0L621.3 315.0L622.3 315.3L622.8 321.3L624.0 320.7L624.9 321.0L625.8 321.2L626.7 321.5L627.6 320.9L628.8 322.0L629.4 318.5L630.3 321.6L631.2 321.0L632.1 321.2L633.0 321.4L633.9 320.4L634.8 321.0L635.7 320.9L636.3 321.2L637.5 320.9L638.4 320.5L639.3 320.5L640.2 320.6L641.1 318.4L642.0 320.9L642.9 319.6L643.3 320.5L643.8 318.0L644.3 316.4L645.1 310.4L645.6 310.5L646.5 309.6L647.4 315.1L648.3 311.0L648.8 310.3L649.0 316.4L649.5 321.4L650.1 321.9L651.0 321.1L651.9 321.5L652.8 322.5L653.8 322.4L654.6 322.8L655.5 322.8L656.4 322.7L657.3 322.6L658.2 323.3L658.8 324.2L660.0 320.9L660.9 323.1L661.8 321.8L662.7 321.1L663.8 321.3L664.5 321.0L665.4 322.4L666.3 321.6L667.2 322.9L668.1 322.4L668.8 324.4L669.9 324.9L670.8 321.7L671.7 325.4L672.6 325.5L673.8 325.6L674.4 323.8L675.3 324.3L676.2 324.6L677.1 325.6L677.5 326.0L678.0 324.5L679.3 323.7L679.3 316.4L679.3 316.4Z" fill="#00ffff" stroke="#00ffff" stroke-width="0.5" stroke-linejoin="round" shape-rendering="crispEdges"/>
<path class="zl" d="M376.2 316.4H686.0"/>
<path class="ax" d="M376.2 260.4V342.9H686.0M376.2 261.0h4.9M376.2 288.4h4.9M376.2 316.4h4.9M376.2 274.4h2.7M376.2 302.4h2.7M376.2 329.4h2.7M398.4 342.9v-6.0M487.4 342.9v-6.0M576.2 342.9v-6.0M663.2 342.9v-6.0M391.0 342.9v-2.8M383.6 342.9v-2.8M405.8 342.9v-2.8M413.2 342.9v-2.8M420.6 342.9v-2.8M428.1 342.9v-2.8M435.5 342.9v-2.8M442.9 342.9v-2.8M450.3 342.9v-2.8M457.7 342.9v-2.8M465.1 342.9v-2.8M472.6 342.9v-2.8M480.0 342.9v-2.8M494.8 342.9v-2.8M502.2 342.9v-2.8M509.6 342.9v-2.8M517.0 342.9v-2.8M524.4 342.9v-2.8M531.8 342.9v-2.8M539.2 342.9v-2.8M546.6 342.9v-2.8M554.0 342.9v-2.8M561.4 342.9v-2.8M568.8 342.9v-2.8M583.5 342.9v-2.8M590.7 342.9v-2.8M598.0 342.9v-2.8M605.2 342.9v-2.8M612.5 342.9v-2.8M619.7 342.9v-2.8M627.0 342.9v-2.8M634.2 342.9v-2.8M641.5 342.9v-2.8M648.7 342.9v-2.8M656.0 342.9v-2.8M670.7 342.9v-2.8M678.1 342.9v-2.8"/>
<text class="n" x="348.4" y="265.1" textLength="24.9" lengthAdjust="spacingAndGlyphs">100</text>
<text class="n" x="356.7" y="292.5" textLength="16.6" lengthAdjust="spacingAndGlyphs">50</text>
<text class="n" x="365.0" y="320.5" textLength="8.3" lengthAdjust="spacingAndGlyphs">0</text>
<text class="n" x="384.1" y="356.7" textLength="33.4" lengthAdjust="spacingAndGlyphs">2019</text>
<text class="n" x="472.5" y="356.7" textLength="33.4" lengthAdjust="spacingAndGlyphs">2020</text>
<text class="n" x="561.5" y="356.7" textLength="33.4" lengthAdjust="spacingAndGlyphs">2021</text>
<text class="n" x="649.4" y="356.7" textLength="33.4" lengthAdjust="spacingAndGlyphs">2022</text>
<rect x="382.7" y="262.5" width="46.3" height="11.6" fill="none" stroke="#262626" stroke-width="1.25" rx="0.6"/>
<path d="M385.6 269.0h19.4" stroke="#00ffff" stroke-width="1.05" fill="none"/>
<text class="l" x="408.7" y="272.9" textLength="18.0" lengthAdjust="spacingAndGlyphs">VIX</text>
</g>
<g>
<path d="M41.4 398.5L41.4 398.4L41.4 411.7L41.9 411.3L42.8 412.0L43.7 410.7L44.6 411.6L45.5 410.0L46.4 411.1L47.4 413.7L48.2 404.1L49.1 405.3L50.0 413.0L50.9 415.6L51.8 404.1L52.4 416.4L53.6 417.4L54.5 417.0L55.4 414.6L56.3 418.0L57.2 415.7L58.1 415.7L58.7 417.9L59.9 417.3L60.8 417.2L61.7 407.4L62.6 411.0L63.5 419.3L64.4 416.7L64.9 418.5L66.2 418.3L67.1 417.2L68.0 409.1L68.6 418.9L69.8 416.6L70.7 412.5L71.6 416.6L72.5 414.5L73.4 412.5L74.3 416.4L74.9 414.4L76.1 414.2L77.4 417.1L77.9 402.1L78.8 418.1L79.7 417.3L80.6 416.5L81.1 417.8L82.4 413.5L82.9 413.5L83.3 410.9L84.2 407.7L84.9 408.4L86.1 413.8L86.9 409.3L87.9 408.0L88.4 396.9L89.4 397.0L89.9 410.6L90.5 410.7L91.4 408.3L91.9 414.9L92.3 413.3L93.2 411.0L94.4 413.7L94.9 424.4L95.6 424.3L96.1 408.5L96.8 407.2L97.7 409.2L98.6 407.5L99.9 410.0L100.4 408.8L101.3 411.7L102.2 411.8L103.1 411.1L104.0 411.3L104.8 411.3L105.8 409.9L106.7 410.2L107.6 409.5L108.5 411.7L109.4 410.2L109.8 412.5L110.3 411.4L111.2 412.3L112.1 411.8L113.0 413.5L113.9 410.8L114.8 412.2L115.7 412.7L116.6 409.6L117.5 409.8L118.4 411.5L119.3 408.7L120.2 408.3L121.1 408.0L122.3 410.1L122.9 410.0L123.8 403.0L124.7 407.0L125.6 406.7L126.5 401.0L127.4 408.2L128.6 408.5L129.2 410.4L129.8 413.7L131.0 411.0L131.9 414.0L132.8 411.0L133.5 413.2L134.6 412.2L135.5 410.6L136.0 410.2L137.3 408.3L138.2 407.8L139.1 410.4L140.0 410.2L140.9 408.5L141.8 407.6L142.3 409.1L143.5 412.7L144.5 409.5L145.4 412.6L146.3 411.5L147.3 411.5L148.1 408.4L149.0 410.7L149.9 410.4L150.8 410.8L151.7 410.7L152.6 410.8L153.5 412.7L154.8 410.9L155.3 409.1L156.2 411.0L157.1 409.4L158.0 408.5L159.3 408.1L160.0 398.4L160.3 392.6L160.7 395.2L161.5 392.3L161.8 398.4L162.3 415.0L163.5 420.8L164.3 417.8L165.5 426.0L166.1 424.1L166.7 419.7L167.9 414.3L168.5 414.4L169.7 416.1L170.7 415.0L171.0 413.9L171.5 414.1L172.4 413.9L173.3 413.4L174.2 410.6L175.1 410.0L176.0 413.1L176.9 410.4L177.8 412.3L178.7 410.8L179.6 411.9L180.5 410.7L181.4 411.7L182.2 411.5L183.2 408.7L184.1 412.9L185.0 411.2L185.9 409.5L186.8 410.5L187.7 408.1L188.5 413.0L189.5 413.5L190.4 412.0L191.5 411.6L192.2 398.4L192.7 392.4L194.2 392.4L194.7 398.4L195.2 411.6L195.8 410.5L196.7 411.1L197.5 414.0L198.2 428.6L199.0 433.2L199.4 434.7L200.2 434.0L200.5 398.4L200.7 386.3L201.2 385.2L201.5 398.4L201.7 418.6L202.7 421.5L203.0 398.4L203.2 384.5L203.9 387.8L204.4 385.4L204.7 398.4L204.9 422.0L205.7 406.4L206.6 421.6L207.5 415.4L208.4 419.9L209.3 419.1L210.2 414.3L210.9 416.8L211.4 446.4L212.0 441.9L212.7 447.8L213.2 416.9L213.8 414.1L214.7 411.6L215.9 412.3L216.5 408.7L217.4 406.9L218.4 403.8L219.2 400.3L219.7 398.4L219.9 396.2L220.7 396.3L220.9 399.9L222.2 405.0L222.8 404.9L223.7 404.8L224.7 403.8L225.5 405.0L226.4 409.0L227.3 406.9L228.2 407.7L229.1 405.9L230.0 404.9L230.9 405.9L231.8 406.4L232.7 406.2L233.6 405.4L234.7 407.5L235.4 408.2L236.4 411.5L237.2 411.6L238.1 410.6L239.0 411.8L239.9 402.1L240.8 413.8L241.7 414.4L242.1 414.1L242.6 411.4L243.5 413.1L244.4 406.1L245.3 405.0L245.9 415.2L247.1 408.8L248.4 405.7L248.9 407.5L249.8 407.8L250.9 411.2L251.6 411.5L252.5 412.6L253.4 410.6L254.6 415.1L255.2 413.3L256.1 413.5L257.0 413.0L257.9 410.7L258.4 412.4L258.8 409.9L259.7 405.3L260.6 410.4L261.5 410.2L262.4 404.9L263.4 408.3L264.2 407.7L265.1 409.3L266.0 409.7L267.1 410.5L267.8 408.2L268.7 408.0L269.6 409.4L270.9 408.9L271.6 398.4L271.8 393.8L272.3 394.2L272.8 393.7L273.1 398.4L273.3 410.8L274.1 410.3L275.0 410.5L275.9 408.0L276.8 407.6L277.7 408.3L278.3 408.1L279.5 401.7L280.4 406.9L281.3 407.8L282.2 408.9L283.1 409.8L284.0 408.3L284.9 409.9L285.8 410.4L286.7 407.2L287.6 408.7L288.5 408.2L289.4 409.0L290.3 406.7L291.2 401.0L292.1 406.3L293.3 408.1L293.9 406.6L294.8 407.6L295.7 407.8L296.6 409.9L297.5 408.8L298.4 410.7L299.3 407.1L300.2 410.9L300.8 411.2L302.0 408.6L302.9 412.8L303.8 410.6L304.7 408.4L305.3 413.5L306.5 418.4L307.0 419.7L308.3 422.1L309.2 421.4L310.3 417.7L311.0 412.4L311.9 411.9L312.8 413.4L313.3 413.4L314.6 412.4L315.5 405.3L316.4 411.1L317.3 407.7L318.3 413.3L319.1 413.1L320.0 415.9L320.9 413.7L322.0 417.5L322.7 416.7L323.6 404.9L324.5 414.3L325.8 419.3L326.3 419.3L327.2 418.0L328.1 414.2L329.0 416.6L329.5 416.7L330.8 404.1L331.5 415.2L331.5 398.4L331.5 398.5Z" fill="#00ffff" stroke="#00ffff" stroke-width="0.5" stroke-linejoin="round" shape-rendering="crispEdges"/>
<path class="zl" d="M27.5 398.5H336.2"/>
<path class="ax" d="M27.5 373.9V457.2H336.2M27.5 374.5h4.9M27.5 398.5h4.9M27.5 422.1h4.9M27.5 445.5h4.9M27.5 386.4h2.7M27.5 409.9h2.7M27.5 434.3h2.7M48.8 457.2v-6.0M137.6 457.2v-6.0M226.3 457.2v-6.0M315.4 457.2v-6.0M41.4 457.2v-2.8M34.0 457.2v-2.8M56.2 457.2v-2.8M63.6 457.2v-2.8M71.0 457.2v-2.8M78.4 457.2v-2.8M85.8 457.2v-2.8M93.2 457.2v-2.8M100.6 457.2v-2.8M108.0 457.2v-2.8M115.4 457.2v-2.8M122.8 457.2v-2.8M130.2 457.2v-2.8M145.0 457.2v-2.8M152.4 457.2v-2.8M159.8 457.2v-2.8M167.2 457.2v-2.8M174.6 457.2v-2.8M181.9 457.2v-2.8M189.3 457.2v-2.8M196.7 457.2v-2.8M204.1 457.2v-2.8M211.5 457.2v-2.8M218.9 457.2v-2.8M233.7 457.2v-2.8M241.2 457.2v-2.8M248.6 457.2v-2.8M256.0 457.2v-2.8M263.4 457.2v-2.8M270.9 457.2v-2.8M278.3 457.2v-2.8M285.7 457.2v-2.8M293.1 457.2v-2.8M300.5 457.2v-2.8M308.0 457.2v-2.8M322.8 457.2v-2.8M330.3 457.2v-2.8"/>
<text class="n" x="8.0" y="378.6" textLength="16.6" lengthAdjust="spacingAndGlyphs">25</text>
<text class="n" x="16.3" y="402.6" textLength="8.3" lengthAdjust="spacingAndGlyphs">0</text>
<text class="n" y="426.2"><tspan x="-1.3" textLength="8.3" lengthAdjust="spacingAndGlyphs">−</tspan><tspan x="8.0" textLength="16.6" lengthAdjust="spacingAndGlyphs">25</tspan></text>
<text class="n" y="449.6"><tspan x="-1.3" textLength="8.3" lengthAdjust="spacingAndGlyphs">−</tspan><tspan x="8.0" textLength="16.6" lengthAdjust="spacingAndGlyphs">50</tspan></text>
<text class="n" x="35.1" y="471.0" textLength="33.4" lengthAdjust="spacingAndGlyphs">2019</text>
<text class="n" x="124.1" y="471.0" textLength="33.4" lengthAdjust="spacingAndGlyphs">2020</text>
<text class="n" x="212.7" y="471.0" textLength="33.4" lengthAdjust="spacingAndGlyphs">2021</text>
<text class="n" x="300.6" y="471.0" textLength="33.4" lengthAdjust="spacingAndGlyphs">2022</text>
<rect x="32.7" y="376.6" width="50.1" height="11.6" fill="none" stroke="#262626" stroke-width="1.25" rx="0.6"/>
<path d="M35.6 383.1h19.4" stroke="#00ffff" stroke-width="1.05" fill="none"/>
<text class="l" x="58.7" y="387.0" textLength="20.8" lengthAdjust="spacingAndGlyphs">OVX</text>
</g>
<g>
<path d="M390.4 416.6L390.4 416.2L390.4 426.3L390.9 426.0L391.8 426.6L392.9 427.3L393.6 421.1L394.5 425.7L395.4 425.3L395.9 426.3L396.9 433.8L398.4 437.3L399.0 434.4L399.7 431.5L400.2 416.2L400.9 410.9L401.7 411.0L402.9 410.4L403.7 416.2L403.9 426.9L404.4 427.2L405.3 426.5L405.9 427.8L406.2 416.2L406.7 413.9L407.1 413.6L408.0 415.1L408.4 414.4L408.9 416.2L409.8 416.1L410.4 415.2L410.9 409.4L411.6 410.4L412.5 410.1L412.9 408.6L413.4 409.7L413.9 409.8L414.4 416.2L415.2 416.6L416.1 417.1L416.6 417.6L417.9 417.0L418.8 417.4L419.9 417.2L420.6 417.8L421.6 419.8L422.4 420.7L423.3 421.5L424.2 421.4L425.4 423.7L426.0 422.8L426.9 424.3L427.9 425.9L428.7 425.3L429.6 424.8L430.5 426.4L431.6 425.1L432.3 424.4L433.2 427.2L434.1 426.4L435.4 430.0L435.9 426.7L436.8 426.3L437.7 428.5L438.6 426.0L439.1 427.2L440.4 428.6L441.3 419.0L442.4 428.9L443.1 431.4L443.6 431.9L444.1 447.2L444.6 429.3L444.8 415.1L445.3 415.1L445.8 427.7L446.7 419.8L447.6 427.8L448.5 424.8L449.1 426.3L450.3 425.3L451.2 424.7L452.1 424.1L452.8 425.2L453.9 419.0L454.8 423.9L455.7 423.9L456.6 421.7L457.8 422.5L458.4 422.2L459.3 421.8L460.2 421.3L461.1 421.4L462.0 420.7L462.9 418.4L463.8 420.9L464.7 420.1L465.3 420.7L466.5 420.2L467.4 417.4L468.3 419.5L469.2 418.3L470.1 418.7L471.0 418.3L471.9 417.8L472.8 417.9L473.7 417.5L474.6 417.2L475.5 416.9L476.4 416.5L477.3 416.2L478.2 416.5L479.0 416.9L480.0 418.0L480.9 418.3L481.8 419.6L482.8 420.2L483.6 421.1L484.5 421.2L485.4 421.4L486.5 423.6L487.2 423.1L488.1 419.1L489.0 425.2L490.3 426.3L490.8 423.8L491.7 423.2L492.8 422.6L493.5 423.0L494.4 422.5L495.3 422.5L496.5 422.5L497.1 423.8L498.0 424.9L499.0 427.1L499.8 425.0L500.7 426.3L501.6 426.5L502.8 427.8L503.4 418.8L504.3 422.8L505.3 420.2L506.1 421.0L507.3 421.0L507.9 424.7L509.0 431.7L509.7 420.5L510.6 428.2L511.5 430.4L512.4 426.7L513.3 421.5L513.7 427.5L514.0 424.3L515.1 424.7L516.0 423.9L516.9 423.2L517.7 424.7L518.7 424.3L519.6 422.1L520.2 422.2L521.4 418.2L522.3 419.7L523.2 421.3L524.1 420.3L525.0 419.0L525.9 420.6L526.5 420.5L527.7 419.6L528.6 418.9L529.5 419.4L530.4 419.6L531.3 418.2L532.0 418.8L533.5 416.2L534.0 416.2L534.9 416.2L535.8 416.2L536.7 416.2L537.7 416.2L538.5 412.0L539.5 416.2L540.0 421.8L541.2 421.2L542.1 419.6L542.7 420.7L543.5 414.5L543.9 415.0L544.8 414.5L545.2 415.1L545.7 415.6L546.5 416.2L547.0 429.6L547.5 430.6L548.2 429.1L548.4 386.2L549.3 384.9L550.4 388.1L551.4 396.4L552.0 401.2L552.7 400.7L553.2 413.7L553.9 421.9L554.7 417.9L555.2 415.0L556.5 415.4L557.4 415.3L558.3 415.2L558.9 414.4L559.7 422.2L560.4 407.7L561.0 407.7L561.4 406.8L561.7 385.2L562.9 386.3L563.4 394.8L564.7 398.5L565.2 416.2L565.7 426.3L566.4 425.1L567.7 424.6L568.2 424.2L569.1 424.4L570.0 422.5L570.9 422.2L571.4 422.4L572.7 423.9L573.9 425.7L574.5 420.4L575.4 425.5L576.3 418.2L577.2 420.1L577.7 423.5L578.1 422.7L579.0 422.6L579.9 418.6L580.8 422.0L581.7 421.2L582.6 421.0L583.5 420.2L584.4 420.2L585.3 420.1L586.2 418.3L587.1 418.7L587.6 418.7L588.4 413.1L588.9 414.5L589.8 415.0L590.7 414.3L591.4 414.2L592.5 415.0L593.4 412.8L594.3 411.9L595.1 410.1L596.1 412.0L597.0 413.4L597.6 414.2L598.8 415.1L599.7 415.8L600.1 416.2L600.6 417.1L601.4 419.7L602.4 420.6L603.3 420.0L604.2 420.4L605.1 421.3L606.4 421.2L606.9 420.7L607.8 420.8L608.7 421.6L609.6 423.2L610.1 423.8L611.4 422.9L612.3 423.5L613.2 424.2L613.9 424.6L614.8 413.1L615.9 413.4L616.8 413.0L617.3 427.5L618.8 429.3L619.5 430.3L620.4 427.1L621.3 421.3L622.2 426.8L622.6 427.7L623.1 426.8L624.0 426.9L624.9 429.0L625.8 426.3L626.3 428.3L627.6 430.3L628.5 430.0L629.3 431.9L630.3 433.6L631.2 420.3L631.8 436.8L633.0 429.1L633.8 429.4L634.8 429.9L635.7 427.2L636.6 427.3L637.6 426.9L638.4 428.3L639.3 427.8L640.2 429.8L641.3 431.2L642.0 428.9L642.9 428.8L643.8 421.4L644.3 430.8L645.8 422.1L646.8 413.0L647.4 413.2L648.5 413.1L649.0 423.8L650.1 423.5L651.0 424.7L651.9 424.7L652.8 425.0L653.8 424.8L654.6 423.6L655.5 425.2L656.4 425.8L657.3 426.3L658.2 426.1L658.8 425.9L660.0 422.7L661.3 422.0L661.8 418.2L662.7 421.6L663.6 421.2L664.5 421.5L665.0 421.7L666.3 423.1L667.2 421.9L668.1 423.4L668.8 425.2L669.9 423.9L670.8 423.8L671.7 423.2L672.5 428.4L673.8 422.4L674.4 422.4L675.3 421.8L676.2 421.2L676.8 421.9L677.3 415.1L678.3 415.0L678.8 420.6L679.3 420.3L679.3 416.2L679.3 416.6Z" fill="#00ffff" stroke="#00ffff" stroke-width="0.5" stroke-linejoin="round" shape-rendering="crispEdges"/>
<path class="zl" d="M376.2 416.6H686.0"/>
<path class="ax" d="M376.2 373.8V457.2H686.0M376.2 388.5h4.9M376.2 416.6h4.9M376.2 443.5h4.9M376.2 402.7h2.7M376.2 429.2h2.7M376.2 374.4h2.7M398.4 457.2v-6.0M487.4 457.2v-6.0M576.2 457.2v-6.0M663.2 457.2v-6.0M391.0 457.2v-2.8M383.6 457.2v-2.8M405.8 457.2v-2.8M413.2 457.2v-2.8M420.6 457.2v-2.8M428.1 457.2v-2.8M435.5 457.2v-2.8M442.9 457.2v-2.8M450.3 457.2v-2.8M457.7 457.2v-2.8M465.1 457.2v-2.8M472.6 457.2v-2.8M480.0 457.2v-2.8M494.8 457.2v-2.8M502.2 457.2v-2.8M509.6 457.2v-2.8M517.0 457.2v-2.8M524.4 457.2v-2.8M531.8 457.2v-2.8M539.2 457.2v-2.8M546.6 457.2v-2.8M554.0 457.2v-2.8M561.4 457.2v-2.8M568.8 457.2v-2.8M583.5 457.2v-2.8M590.7 457.2v-2.8M598.0 457.2v-2.8M605.2 457.2v-2.8M612.5 457.2v-2.8M619.7 457.2v-2.8M627.0 457.2v-2.8M634.2 457.2v-2.8M641.5 457.2v-2.8M648.7 457.2v-2.8M656.0 457.2v-2.8M670.7 457.2v-2.8M678.1 457.2v-2.8"/>
<text class="n" x="356.7" y="392.6" textLength="16.6" lengthAdjust="spacingAndGlyphs">25</text>
<text class="n" x="365.0" y="420.7" textLength="8.3" lengthAdjust="spacingAndGlyphs">0</text>
<text class="n" y="447.6"><tspan x="346.8" textLength="8.3" lengthAdjust="spacingAndGlyphs">−</tspan><tspan x="356.7" textLength="16.6" lengthAdjust="spacingAndGlyphs">25</tspan></text>
<text class="n" x="384.1" y="471.0" textLength="33.4" lengthAdjust="spacingAndGlyphs">2019</text>
<text class="n" x="472.5" y="471.0" textLength="33.4" lengthAdjust="spacingAndGlyphs">2020</text>
<text class="n" x="561.5" y="471.0" textLength="33.4" lengthAdjust="spacingAndGlyphs">2021</text>
<text class="n" x="649.4" y="471.0" textLength="33.4" lengthAdjust="spacingAndGlyphs">2022</text>
<rect x="382.7" y="376.6" width="51.0" height="11.6" fill="none" stroke="#262626" stroke-width="1.25" rx="0.6"/>
<path d="M385.6 383.1h19.4" stroke="#00ffff" stroke-width="1.05" fill="none"/>
<text class="l" x="408.7" y="387.0" textLength="22.6" lengthAdjust="spacingAndGlyphs">GVZ</text>
</g>
<g>
<path d="M42.9 603.7L42.9 603.4L42.9 599.8L43.7 603.4L44.4 604.9L45.4 604.9L46.2 604.9L46.4 603.4L47.4 593.6L48.4 592.6L49.4 590.2L49.9 591.5L50.4 590.5L51.4 588.8L52.4 587.9L53.4 588.8L54.4 587.8L54.9 588.4L55.4 588.8L56.4 592.4L57.4 589.5L58.7 589.6L59.4 583.3L59.9 580.2L60.4 577.8L61.4 576.0L62.4 572.4L63.4 572.4L64.4 575.4L64.9 571.1L65.4 570.6L66.4 571.4L67.4 570.1L68.4 570.0L69.4 569.7L69.9 569.8L70.4 569.8L71.4 569.0L72.4 567.1L73.4 566.8L74.4 567.5L74.9 565.1L75.4 568.3L76.4 561.7L77.4 563.8L78.6 558.8L79.4 559.9L80.4 560.1L81.1 560.8L82.4 566.5L83.4 566.5L84.9 567.2L85.4 567.4L86.4 566.0L87.4 564.6L88.6 559.8L89.4 560.2L90.4 554.0L91.6 552.6L92.9 554.7L93.4 561.7L94.4 572.4L95.6 593.4L96.9 595.3L97.9 588.4L98.4 590.0L99.1 582.4L100.4 583.5L101.1 585.1L102.3 578.3L103.1 575.9L104.8 581.3L105.4 581.3L106.4 579.5L107.3 578.6L108.4 582.1L109.8 581.2L110.4 581.6L111.4 579.6L112.3 580.1L113.6 582.0L114.8 586.5L115.4 592.7L116.1 592.6L117.4 591.6L118.6 589.5L119.4 591.3L120.4 592.4L121.1 592.0L122.3 599.1L123.6 602.8L124.1 603.4L125.4 605.9L126.1 606.5L127.8 608.2L128.4 607.7L129.8 604.9L130.6 603.4L131.8 595.7L132.4 596.7L133.5 597.0L134.8 595.1L135.4 597.3L136.8 601.0L137.3 603.4L138.4 607.2L139.3 609.3L140.4 603.7L141.0 604.9L141.8 603.4L142.4 600.3L143.5 596.4L144.8 592.0L145.4 593.8L146.4 594.7L147.3 595.6L148.4 595.6L149.8 596.7L150.4 596.5L151.4 595.6L152.3 594.4L153.5 597.0L154.8 567.8L155.4 565.2L156.4 563.8L157.3 561.4L158.4 560.2L159.8 558.3L160.4 557.0L161.4 556.5L162.3 555.0L163.4 552.2L164.8 550.5L165.4 549.5L166.0 549.3L167.4 551.8L168.5 552.5L169.4 551.0L170.7 554.8L171.0 555.4L172.4 554.4L173.5 553.4L174.4 552.6L175.4 552.6L176.4 555.9L177.4 555.7L178.5 552.4L179.4 549.6L180.4 552.1L181.4 552.0L182.4 551.5L183.5 551.3L184.4 551.4L185.4 553.2L186.0 553.4L186.4 552.5L187.4 554.5L188.4 554.8L189.7 554.9L190.4 555.6L191.4 556.4L192.4 558.8L193.5 554.0L194.4 554.0L195.4 555.1L196.4 554.7L197.2 555.4L198.4 553.1L199.7 552.7L200.4 551.9L201.4 550.1L202.2 549.5L203.4 547.8L204.7 545.3L205.2 572.5L205.9 570.1L206.4 570.2L207.4 568.0L208.4 565.9L209.4 571.0L210.4 570.2L211.4 574.1L212.2 577.4L213.4 581.7L213.9 583.8L214.4 586.6L215.4 591.0L216.4 588.6L217.2 587.6L218.4 584.4L219.7 580.4L220.4 574.9L221.4 578.4L222.2 577.1L223.4 577.2L224.2 571.0L225.4 579.7L226.4 585.3L227.2 589.7L228.4 596.2L228.9 598.4L229.4 600.3L230.2 603.4L231.4 608.0L232.4 607.5L233.4 608.0L233.7 603.4L234.4 598.3L235.4 597.7L236.2 597.0L236.4 603.4L237.2 609.5L238.4 609.2L239.4 610.3L240.4 609.9L240.9 603.4L241.4 600.7L242.4 600.2L243.4 599.9L243.9 596.3L244.4 596.9L245.4 595.4L246.1 596.5L246.4 603.4L247.1 610.2L248.4 610.1L249.4 611.2L250.9 611.6L251.4 612.0L252.4 611.2L253.4 612.0L254.6 611.2L255.4 611.5L256.4 610.3L257.4 610.7L258.4 609.8L258.6 603.4L259.1 597.0L260.1 597.3L260.4 603.4L260.6 610.7L261.6 610.7L261.9 603.4L262.4 596.5L263.4 600.1L264.4 597.1L265.1 596.9L265.4 603.4L266.4 606.1L267.4 610.1L268.4 607.8L269.6 608.2L270.4 610.2L271.4 611.1L272.4 612.4L273.3 612.9L274.3 604.9L274.6 603.4L275.1 593.6L276.8 594.8L277.3 601.1L278.4 601.1L279.8 601.3L280.1 603.4L280.8 609.4L281.4 610.8L282.4 610.9L283.8 616.1L284.4 613.2L285.3 609.7L286.3 603.4L286.8 596.1L287.4 599.2L288.4 596.2L289.3 596.3L289.8 600.0L290.4 599.4L291.3 599.5L291.8 590.9L292.4 591.8L293.4 591.6L294.3 591.0L294.8 594.9L295.4 594.4L296.8 594.7L297.3 592.9L298.4 597.5L299.3 592.7L299.8 597.6L300.6 597.0L300.8 603.4L301.4 606.0L302.1 610.1L303.4 612.0L304.5 612.8L305.4 614.7L306.4 616.8L307.0 618.7L308.8 619.6L308.8 582.7L309.4 581.8L310.8 578.4L311.4 576.6L312.4 573.2L313.3 570.7L314.4 570.1L315.8 568.7L316.4 571.3L317.4 566.7L318.3 566.6L319.4 564.3L320.3 562.0L321.4 567.9L322.0 570.0L323.4 570.9L324.5 571.3L325.4 568.5L326.4 564.8L327.0 562.0L328.8 556.7L329.4 562.9L330.0 567.7L331.0 566.6L331.3 603.4L331.3 603.7Z" fill="#0000ff" stroke="#0000ff" stroke-width="0.5" stroke-linejoin="round" shape-rendering="crispEdges"/>
<path class="zl" d="M28.0 603.7H336.2"/>
<path class="ax" d="M28.0 543.8V627.3H336.2M28.0 556.1h4.9M28.0 579.8h4.9M28.0 603.7h4.9M28.0 568.4h2.7M28.0 591.7h2.7M28.0 615.6h2.7M28.0 544.4h2.7M50.2 627.3v-5.3M138.0 627.3v-5.3M227.0 627.3v-5.3M315.0 627.3v-5.3M42.9 627.3v-2.6M35.6 627.3v-2.6M57.5 627.3v-2.6M64.8 627.3v-2.6M72.2 627.3v-2.6M79.5 627.3v-2.6M86.8 627.3v-2.6M94.1 627.3v-2.6M101.4 627.3v-2.6M108.7 627.3v-2.6M116.0 627.3v-2.6M123.4 627.3v-2.6M130.7 627.3v-2.6M145.4 627.3v-2.6M152.8 627.3v-2.6M160.2 627.3v-2.6M167.7 627.3v-2.6M175.1 627.3v-2.6M182.5 627.3v-2.6M189.9 627.3v-2.6M197.3 627.3v-2.6M204.8 627.3v-2.6M212.2 627.3v-2.6M219.6 627.3v-2.6M234.3 627.3v-2.6M241.7 627.3v-2.6M249.0 627.3v-2.6M256.3 627.3v-2.6M263.7 627.3v-2.6M271.0 627.3v-2.6M278.3 627.3v-2.6M285.7 627.3v-2.6M293.0 627.3v-2.6M300.3 627.3v-2.6M307.7 627.3v-2.6M322.4 627.3v-2.6M329.9 627.3v-2.6"/>
<text class="n" x="8.5" y="560.2" textLength="16.6" lengthAdjust="spacingAndGlyphs">10</text>
<text class="n" x="16.8" y="583.9" textLength="8.3" lengthAdjust="spacingAndGlyphs">5</text>
<text class="n" x="16.8" y="607.8" textLength="8.3" lengthAdjust="spacingAndGlyphs">0</text>
<text class="n" x="36.5" y="641.1" textLength="33.4" lengthAdjust="spacingAndGlyphs">2019</text>
<text class="n" x="124.3" y="641.1" textLength="33.4" lengthAdjust="spacingAndGlyphs">2020</text>
<text class="n" x="213.2" y="641.1" textLength="33.4" lengthAdjust="spacingAndGlyphs">2021</text>
<text class="n" x="300.3" y="641.1" textLength="33.4" lengthAdjust="spacingAndGlyphs">2022</text>
<rect x="34.5" y="546.8" width="50.9" height="11.2" fill="none" stroke="#262626" stroke-width="1.25" rx="0.6"/>
<path d="M37.4 553.1h19.4" stroke="#0000ff" stroke-width="1.05" fill="none"/>
<text class="l" x="60.5" y="557.0" textLength="22.8" lengthAdjust="spacingAndGlyphs">BTC</text>
</g>
<g>
<path class="ax" d="M398.5 627.4v-5.3M486.3 627.4v-5.3M575.5 627.4v-5.3M662.5 627.4v-5.3M391.2 627.4v-2.6M383.9 627.4v-2.6M405.8 627.4v-2.6M413.1 627.4v-2.6M420.4 627.4v-2.6M427.8 627.4v-2.6M435.1 627.4v-2.6M442.4 627.4v-2.6M449.7 627.4v-2.6M457.0 627.4v-2.6M464.4 627.4v-2.6M471.7 627.4v-2.6M479.0 627.4v-2.6M493.7 627.4v-2.6M501.2 627.4v-2.6M508.6 627.4v-2.6M516.0 627.4v-2.6M523.5 627.4v-2.6M530.9 627.4v-2.6M538.3 627.4v-2.6M545.8 627.4v-2.6M553.2 627.4v-2.6M560.6 627.4v-2.6M568.1 627.4v-2.6M582.8 627.4v-2.6M590.0 627.4v-2.6M597.2 627.4v-2.6M604.5 627.4v-2.6M611.8 627.4v-2.6M619.0 627.4v-2.6M626.2 627.4v-2.6M633.5 627.4v-2.6M640.8 627.4v-2.6M648.0 627.4v-2.6M655.2 627.4v-2.6M670.0 627.4v-2.6M677.4 627.4v-2.6"/>
<path d="M390.4 627.4L390.4 627.4L390.4 578.9L390.9 578.0L391.9 576.7L392.9 576.5L393.9 574.5L394.9 570.3L395.4 571.2L395.9 572.3L396.7 575.2L397.9 574.9L399.2 573.6L399.9 575.2L400.9 576.9L401.7 575.9L402.9 577.1L404.2 577.3L404.9 576.0L405.9 575.8L406.7 574.6L407.9 572.8L409.2 569.7L409.9 570.7L410.9 567.1L411.9 569.2L412.9 570.4L413.9 568.7L414.9 568.6L415.4 567.3L415.9 567.8L416.9 567.5L417.9 566.5L418.9 565.3L419.9 567.2L420.4 563.6L420.9 563.8L421.9 563.4L422.9 563.3L423.9 561.9L425.4 562.9L425.9 564.1L426.9 561.7L427.9 561.6L428.9 564.6L430.4 565.3L430.9 566.3L431.9 567.0L432.9 568.3L433.9 566.9L434.9 565.8L435.9 572.0L437.4 571.2L437.9 570.9L438.9 565.7L439.9 567.5L440.9 561.7L441.6 557.5L442.9 558.0L444.1 560.2L444.9 561.2L445.9 562.6L446.6 564.1L447.9 560.2L449.1 556.0L449.9 555.4L450.9 555.7L451.6 554.7L452.9 553.5L454.1 553.6L454.9 555.0L455.9 556.1L456.6 556.2L457.9 556.2L459.1 554.7L459.9 556.4L460.8 559.1L461.9 557.8L462.8 557.2L463.9 555.1L465.3 559.8L465.9 565.1L466.9 560.5L467.8 562.4L468.9 559.7L470.3 564.7L470.9 567.2L471.9 564.3L472.8 564.7L473.9 564.1L475.3 569.0L475.9 571.0L477.3 574.0L477.9 571.9L479.0 567.2L479.9 567.1L480.9 568.7L481.5 565.2L482.8 562.2L483.9 565.5L485.3 569.0L485.9 568.1L486.9 568.6L487.8 567.7L488.9 566.1L490.3 566.0L490.9 566.1L491.9 567.6L492.8 567.1L493.9 566.5L494.5 565.1L495.9 568.8L496.5 569.6L497.9 572.6L499.0 575.2L499.9 582.4L500.8 579.6L502.3 590.6L503.3 577.6L503.9 572.9L504.8 567.8L505.9 568.6L506.5 563.6L507.9 559.8L509.0 560.3L509.9 559.5L510.9 559.1L511.5 559.9L512.9 559.2L513.7 557.5L514.0 557.5L514.9 560.3L515.9 560.0L516.9 556.9L517.9 555.9L519.0 556.3L519.9 559.4L520.9 556.2L521.9 555.5L522.9 553.5L523.9 555.2L525.2 555.2L525.9 556.0L526.9 555.9L527.9 557.4L529.0 559.1L529.9 558.8L530.9 558.0L531.9 561.1L532.7 555.9L533.9 557.9L534.9 558.6L535.9 560.1L536.5 561.4L536.9 561.8L537.9 562.7L539.0 565.3L539.9 567.5L540.9 569.5L541.5 569.7L541.9 570.1L542.9 571.6L544.0 572.5L544.9 573.7L545.9 574.2L546.5 573.4L546.9 574.6L547.9 576.8L548.9 578.3L549.9 573.7L550.9 569.8L551.9 568.6L552.9 576.3L553.4 580.1L553.9 580.4L555.2 584.4L555.9 583.4L556.9 583.6L557.7 584.0L558.9 581.7L560.2 579.0L560.9 579.6L561.9 575.9L562.7 573.3L563.9 565.7L564.4 562.0L564.9 559.9L565.7 556.0L566.4 572.3L566.9 573.2L567.9 574.8L568.9 580.2L569.9 581.4L570.9 582.5L571.4 583.3L571.9 584.8L572.9 588.9L573.9 592.1L574.9 602.8L575.7 611.1L576.9 599.9L577.9 598.2L578.9 596.1L579.9 597.1L580.9 597.4L581.4 597.5L581.9 596.0L582.9 589.3L583.9 589.1L584.9 587.5L585.9 584.9L586.4 584.6L586.9 583.7L587.9 582.8L588.9 581.1L589.9 582.4L590.9 584.0L591.9 587.7L592.6 590.1L593.9 588.2L594.4 587.7L594.9 593.4L595.9 589.7L596.9 591.0L597.9 592.7L598.9 593.6L599.9 593.5L600.9 592.1L601.9 592.7L602.6 600.0L604.4 596.2L604.9 596.0L606.4 595.3L607.4 607.7L607.9 601.4L608.9 590.2L609.9 589.7L611.4 589.4L611.9 590.4L612.9 591.7L613.9 592.8L614.9 593.0L616.3 593.4L616.9 592.9L617.9 592.8L618.8 591.1L619.9 592.6L621.3 595.4L621.9 593.9L623.1 585.9L624.3 584.2L624.9 586.4L626.3 590.0L626.9 590.9L627.9 592.5L628.8 592.6L629.9 593.2L631.3 595.4L631.9 595.6L632.9 594.9L633.8 596.7L634.9 598.6L636.3 600.8L636.9 601.2L637.6 602.6L638.8 592.0L639.9 590.4L641.3 589.3L641.9 589.6L642.9 588.8L643.8 588.8L644.9 585.6L646.3 583.9L646.9 581.3L647.9 583.7L648.8 585.0L650.0 592.2L650.9 590.9L651.9 588.5L652.5 586.0L654.3 584.1L654.9 585.8L656.3 589.0L656.9 588.8L658.0 588.3L658.9 592.4L659.5 595.4L661.3 591.9L661.9 592.9L662.9 594.2L663.8 595.6L664.9 599.4L665.5 602.4L666.8 592.7L667.9 590.6L668.8 589.6L669.9 589.2L671.3 587.8L671.9 589.1L672.9 589.0L673.8 589.5L674.9 591.8L676.3 583.9L676.9 587.2L677.5 589.8L678.8 589.6L678.8 627.4L678.8 627.4Z" fill="#0000ff" stroke="#0000ff" stroke-width="0.5" stroke-linejoin="round" shape-rendering="crispEdges"/>
<path class="ax" d="M376.5 544.0V627.4H686.0M376.5 544.6h4.9M376.5 572.3h4.9M376.5 600.3h4.9M376.5 558.4h2.7M376.5 586.4h2.7M376.5 614.1h2.7"/>
<text class="n" x="357.0" y="548.7" textLength="16.6" lengthAdjust="spacingAndGlyphs">15</text>
<text class="n" x="357.0" y="576.4" textLength="16.6" lengthAdjust="spacingAndGlyphs">10</text>
<text class="n" x="365.3" y="604.4" textLength="8.3" lengthAdjust="spacingAndGlyphs">5</text>
<text class="n" x="383.8" y="641.2" textLength="33.4" lengthAdjust="spacingAndGlyphs">2019</text>
<text class="n" x="472.1" y="641.2" textLength="33.4" lengthAdjust="spacingAndGlyphs">2020</text>
<text class="n" x="561.0" y="641.2" textLength="33.4" lengthAdjust="spacingAndGlyphs">2021</text>
<text class="n" x="648.9" y="641.2" textLength="33.4" lengthAdjust="spacingAndGlyphs">2022</text>
<rect x="382.9" y="546.8" width="49.1" height="11.2" fill="none" stroke="#262626" stroke-width="1.25" rx="0.6"/>
<path d="M385.8 553.1h19.4" stroke="#0000ff" stroke-width="1.05" fill="none"/>
<text class="l" x="408.9" y="557.0" textLength="21.6" lengthAdjust="spacingAndGlyphs">ETH</text>
</g>
<g>
<path d="M42.9 724.1L42.9 724.1L42.9 688.7L43.4 689.1L44.4 691.3L44.9 691.6L45.4 692.1L46.4 692.8L47.4 693.8L48.4 693.6L49.4 693.5L49.9 692.8L50.4 692.9L51.4 693.0L52.4 693.9L53.4 694.0L54.4 694.4L54.9 694.5L55.4 695.5L56.4 694.8L57.4 695.1L58.7 695.2L59.4 700.0L59.9 702.1L60.4 702.7L61.4 704.0L62.4 705.1L63.4 706.6L64.4 706.7L65.4 708.7L66.4 709.0L67.4 709.9L68.6 709.8L69.4 713.2L70.4 714.7L71.4 712.0L72.4 710.8L73.4 711.3L74.4 713.4L74.9 711.5L75.4 716.5L76.4 713.4L77.4 712.9L78.6 712.5L79.4 712.0L80.4 711.5L81.1 710.6L82.4 708.6L83.6 707.1L84.4 707.7L85.4 706.7L86.1 706.5L87.9 707.1L88.4 709.5L89.9 713.5L90.4 715.7L91.9 718.5L92.4 717.3L93.4 715.6L94.4 715.2L95.4 718.0L96.1 714.6L97.9 719.2L98.4 716.6L99.9 721.0L100.4 720.8L101.4 719.4L102.3 719.7L103.4 720.6L104.8 720.4L105.4 719.7L106.4 719.3L107.3 717.9L108.4 716.7L109.8 716.6L110.4 718.2L111.6 720.5L112.4 717.9L113.6 716.3L114.8 712.4L115.4 712.9L116.4 717.1L117.3 714.5L118.4 715.3L119.8 715.8L120.4 720.7L121.1 724.1L121.6 728.3L122.8 726.3L123.4 724.3L124.1 722.4L125.4 720.4L126.1 720.8L127.4 720.0L128.6 719.8L129.8 724.1L130.4 725.0L131.1 727.8L132.8 727.7L133.4 725.1L134.0 722.6L135.4 716.5L136.0 715.3L137.3 711.6L138.4 706.9L139.3 705.2L140.4 698.8L141.0 696.6L142.8 694.1L143.4 693.3L144.4 690.8L145.3 692.8L146.4 698.5L147.3 695.6L148.4 694.1L149.8 694.0L150.4 696.5L151.4 693.3L152.3 692.7L153.4 694.9L154.3 695.1L155.4 699.8L156.0 702.4L157.8 699.1L158.4 698.4L159.8 696.6L160.4 696.1L161.4 694.5L162.3 694.6L163.4 693.3L164.8 692.7L165.4 692.1L166.4 695.9L167.2 691.3L168.4 691.0L169.7 690.3L170.7 690.1L171.0 691.5L172.4 690.7L173.4 688.9L174.7 688.5L175.4 691.0L176.4 687.4L177.4 687.6L178.5 687.1L179.4 687.2L180.4 687.7L181.4 687.1L182.2 687.4L183.4 686.2L184.4 687.4L185.4 687.2L186.0 687.6L186.4 687.2L187.4 688.1L188.4 688.4L189.7 687.1L190.4 686.3L191.4 685.3L192.4 685.3L193.5 684.3L194.4 684.2L195.4 682.7L196.0 682.6L196.4 683.3L197.4 683.7L198.5 684.0L199.4 682.6L200.4 681.5L201.0 680.7L201.4 680.0L202.4 678.3L203.5 677.2L204.4 666.0L205.4 669.6L205.9 671.5L206.4 671.9L207.4 673.3L208.4 675.0L209.4 675.7L210.4 677.5L211.4 676.3L212.4 678.0L212.9 675.3L213.4 675.6L214.4 677.0L215.4 677.9L216.4 682.5L217.2 684.8L218.4 690.9L219.7 687.3L220.4 688.8L221.4 691.3L222.2 692.0L223.4 689.2L223.9 688.4L224.4 687.5L225.4 684.7L225.9 684.7L226.4 683.9L227.4 682.9L228.4 682.2L229.7 678.9L230.4 678.2L231.4 678.9L232.4 679.4L233.4 679.5L234.4 679.4L235.4 680.1L236.4 678.6L237.2 680.7L238.4 683.5L238.9 685.3L239.4 684.9L240.4 685.5L241.4 686.1L242.1 686.0L243.4 687.1L244.6 689.1L245.4 688.8L246.4 690.8L247.1 690.7L248.4 692.5L249.6 693.2L250.4 696.1L251.4 696.3L252.1 692.4L253.4 687.1L254.4 691.5L255.9 686.0L256.4 686.2L257.4 686.3L258.4 686.0L259.4 684.7L260.9 680.8L261.4 681.1L262.4 683.2L263.4 678.6L264.4 677.2L265.9 676.2L266.4 675.5L267.4 675.9L268.4 674.3L269.4 673.6L270.9 673.0L271.4 673.4L272.4 672.4L273.3 672.4L274.4 672.1L275.8 670.9L276.4 671.2L277.4 671.1L278.3 670.9L279.4 670.5L280.8 669.8L281.4 671.7L282.8 673.7L283.4 674.6L284.4 674.4L285.3 674.9L286.4 678.3L287.1 680.3L288.8 680.8L289.4 681.0L290.8 678.2L291.4 676.7L292.4 675.2L293.3 673.4L294.4 672.8L295.8 671.0L296.4 670.9L297.4 671.7L298.3 671.5L299.4 670.9L300.3 672.1L301.4 675.4L302.1 677.3L303.8 683.7L304.4 685.2L305.8 687.0L306.4 690.1L307.4 689.0L308.3 685.0L309.4 686.5L310.3 689.0L311.4 690.0L312.4 690.8L313.3 691.1L314.4 696.0L315.8 691.6L316.4 692.5L317.4 692.6L318.3 693.8L319.4 694.4L320.3 696.4L321.4 696.2L322.4 695.4L323.3 694.0L324.4 694.0L325.8 692.9L326.4 689.0L327.4 693.0L328.3 691.9L329.4 691.4L330.8 691.6L331.0 724.1L331.0 724.1Z" fill="#0000ff" stroke="#0000ff" stroke-width="0.5" stroke-linejoin="round" shape-rendering="crispEdges"/>
<path class="zl" d="M28.0 724.1H336.2"/>
<path class="ax" d="M28.0 657.2V739.7H336.2M28.0 657.9h4.9M28.0 690.7h4.9M28.0 724.1h4.9M28.0 674.7h2.7M28.0 707.5h2.7M50.2 739.7v-5.3M138.0 739.7v-5.3M227.0 739.7v-5.3M315.0 739.7v-5.3M42.9 739.7v-2.6M35.6 739.7v-2.6M57.5 739.7v-2.6M64.8 739.7v-2.6M72.2 739.7v-2.6M79.5 739.7v-2.6M86.8 739.7v-2.6M94.1 739.7v-2.6M101.4 739.7v-2.6M108.7 739.7v-2.6M116.0 739.7v-2.6M123.4 739.7v-2.6M130.7 739.7v-2.6M145.4 739.7v-2.6M152.8 739.7v-2.6M160.2 739.7v-2.6M167.7 739.7v-2.6M175.1 739.7v-2.6M182.5 739.7v-2.6M189.9 739.7v-2.6M197.3 739.7v-2.6M204.8 739.7v-2.6M212.2 739.7v-2.6M219.6 739.7v-2.6M234.3 739.7v-2.6M241.7 739.7v-2.6M249.0 739.7v-2.6M256.3 739.7v-2.6M263.7 739.7v-2.6M271.0 739.7v-2.6M278.3 739.7v-2.6M285.7 739.7v-2.6M293.0 739.7v-2.6M300.3 739.7v-2.6M307.7 739.7v-2.6M322.4 739.7v-2.6M329.9 739.7v-2.6"/>
<text class="n" x="8.5" y="662.0" textLength="16.6" lengthAdjust="spacingAndGlyphs">20</text>
<text class="n" x="8.5" y="694.8" textLength="16.6" lengthAdjust="spacingAndGlyphs">10</text>
<text class="n" x="16.8" y="728.2" textLength="8.3" lengthAdjust="spacingAndGlyphs">0</text>
<text class="n" x="36.5" y="753.5" textLength="33.4" lengthAdjust="spacingAndGlyphs">2019</text>
<text class="n" x="124.3" y="753.5" textLength="33.4" lengthAdjust="spacingAndGlyphs">2020</text>
<text class="n" x="213.2" y="753.5" textLength="33.4" lengthAdjust="spacingAndGlyphs">2021</text>
<text class="n" x="300.3" y="753.5" textLength="33.4" lengthAdjust="spacingAndGlyphs">2022</text>
<rect x="34.5" y="660.5" width="48.3" height="11.4" fill="none" stroke="#262626" stroke-width="1.25" rx="0.6"/>
<path d="M37.4 666.9h19.4" stroke="#0000ff" stroke-width="1.05" fill="none"/>
<text class="l" x="60.5" y="670.8" textLength="21.2" lengthAdjust="spacingAndGlyphs">LTC</text>
</g>
<g>
<path d="M390.4 659.1L390.4 658.7L390.4 715.9L390.9 716.2L391.9 717.5L392.9 718.9L394.2 722.3L394.9 720.3L395.9 719.9L396.9 725.7L397.4 727.3L397.9 729.1L398.4 730.8L398.9 730.1L399.9 726.3L400.4 724.8L400.9 723.4L401.9 719.6L402.9 715.0L403.9 713.2L404.9 711.2L405.9 710.5L406.7 709.6L407.9 716.0L408.9 715.9L409.9 715.1L410.9 720.9L411.6 726.5L412.9 717.8L413.9 717.8L414.9 718.8L415.4 719.1L415.9 719.5L416.9 721.1L417.9 722.8L418.9 727.5L419.9 727.6L420.9 732.2L421.6 735.1L422.9 729.8L423.4 727.2L423.9 726.4L425.4 722.1L425.9 725.3L427.4 733.5L427.9 734.6L429.1 738.3L430.4 735.8L430.9 731.7L431.6 725.8L433.4 727.5L433.9 729.2L435.4 732.6L435.9 733.4L437.4 732.8L437.9 728.4L438.6 724.5L440.4 721.4L440.9 719.3L442.1 714.7L442.9 708.3L443.6 711.6L445.3 708.7L445.9 709.6L447.3 712.7L447.9 710.6L448.9 712.8L450.3 713.7L450.9 712.9L451.9 713.6L452.9 712.7L454.1 712.6L454.9 712.1L455.9 710.9L456.6 710.8L457.9 708.6L459.1 707.5L460.3 703.2L460.9 704.5L462.3 705.3L462.9 703.1L464.1 700.3L464.9 703.3L465.8 700.9L467.1 703.7L467.9 694.5L468.6 688.4L470.3 694.0L470.9 694.4L472.3 697.5L472.9 697.4L474.1 696.4L474.9 697.0L476.1 698.6L476.9 695.8L477.8 693.2L479.0 703.6L480.3 696.2L480.9 698.7L482.3 703.9L482.9 706.1L484.0 709.0L484.9 710.3L485.9 712.8L486.5 713.7L488.3 718.5L488.9 722.3L489.8 727.1L490.9 731.8L491.5 733.7L492.8 736.1L493.9 730.7L494.5 728.3L495.9 725.4L496.5 723.3L497.9 723.0L499.0 722.3L500.3 738.4L501.3 724.9L502.3 726.5L502.9 706.4L503.5 690.1L504.8 687.6L505.9 693.2L506.5 695.7L507.9 698.8L509.0 699.6L509.9 703.8L510.7 705.8L511.9 705.4L512.7 706.4L513.7 708.5L514.0 707.8L514.9 706.0L515.9 703.4L516.5 702.8L517.9 698.7L519.0 696.5L519.9 696.4L521.0 695.2L521.9 697.9L522.7 701.6L523.9 701.3L525.2 700.3L525.9 699.8L526.9 698.6L527.7 698.7L528.9 697.6L530.2 696.9L530.9 695.0L531.9 699.0L532.7 699.7L533.9 699.2L535.2 697.8L535.9 698.0L536.9 698.0L537.7 699.1L538.9 697.0L540.2 696.5L540.9 696.6L541.9 696.1L542.7 695.5L543.9 696.0L545.2 696.3L545.9 694.3L546.9 690.3L547.7 688.5L548.9 691.1L549.4 692.4L549.9 690.7L550.9 687.5L551.9 724.7L552.9 710.9L553.9 705.8L554.4 707.6L554.9 705.8L555.9 699.1L556.4 699.8L556.9 697.9L557.9 695.8L558.9 693.6L559.9 692.0L560.9 687.5L561.4 688.8L561.9 686.3L563.2 682.5L563.9 683.0L564.7 688.7L565.9 691.5L566.4 693.8L566.9 694.6L567.9 695.8L568.9 696.9L569.9 693.1L570.7 690.1L571.9 694.7L572.7 696.6L573.9 695.0L575.2 693.6L575.9 693.0L576.9 695.2L577.7 691.7L578.9 692.4L580.2 693.0L580.9 693.9L581.9 691.6L582.6 691.3L583.9 693.3L585.1 692.3L585.9 692.4L586.9 689.0L587.9 691.9L588.9 694.8L589.9 695.7L590.9 693.4L591.4 692.0L591.9 691.7L592.9 689.4L593.9 688.5L594.9 684.7L595.9 686.5L596.9 684.9L598.4 683.5L598.9 683.2L600.1 679.9L600.9 680.4L601.9 679.7L602.9 680.5L603.9 681.7L604.9 682.1L606.4 684.0L606.9 684.4L607.9 684.5L608.4 695.9L608.9 697.2L610.1 699.7L610.9 701.6L611.9 702.2L612.6 703.9L613.9 705.4L615.1 706.7L615.9 708.0L616.9 708.8L617.6 709.6L618.9 710.2L620.1 711.3L620.9 708.0L621.9 709.3L622.6 712.2L623.9 714.5L624.6 715.9L625.9 714.9L626.8 715.1L627.9 712.9L628.8 710.0L629.9 706.1L630.8 704.0L631.9 706.3L632.6 707.6L633.9 706.8L635.1 704.7L635.9 705.8L636.9 705.1L637.6 705.9L638.9 707.2L640.1 707.2L640.9 707.7L641.9 707.5L642.6 707.7L643.9 708.2L645.1 709.4L645.9 707.3L646.8 706.4L647.9 702.5L648.8 699.6L650.3 689.7L651.3 672.3L652.0 669.9L652.9 669.6L653.8 669.9L654.9 667.0L655.8 670.4L656.5 710.0L657.8 716.3L658.9 717.3L660.0 718.4L660.9 723.3L661.8 719.9L663.3 713.5L663.9 710.7L665.0 705.0L665.9 702.3L666.8 699.9L667.9 697.8L668.8 696.1L669.9 691.2L670.8 693.6L672.3 689.7L672.9 692.2L673.8 693.6L674.9 697.0L675.8 699.1L676.9 691.9L677.5 694.6L678.8 693.2L678.8 658.7L678.8 659.1Z" fill="#0000ff" stroke="#0000ff" stroke-width="0.5" stroke-linejoin="round" shape-rendering="crispEdges"/>
<path class="ax" d="M376.5 657.7V739.7H686.0M376.5 670.4h4.9M376.5 693.6h4.9M376.5 716.7h4.9M376.5 681.8h2.7M376.5 705.5h2.7M376.5 728.4h2.7M376.5 658.4h2.7M398.5 739.7v-5.3M486.3 739.7v-5.3M575.5 739.7v-5.3M662.5 739.7v-5.3M391.2 739.7v-2.6M383.9 739.7v-2.6M405.8 739.7v-2.6M413.1 739.7v-2.6M420.4 739.7v-2.6M427.8 739.7v-2.6M435.1 739.7v-2.6M442.4 739.7v-2.6M449.7 739.7v-2.6M457.0 739.7v-2.6M464.4 739.7v-2.6M471.7 739.7v-2.6M479.0 739.7v-2.6M493.7 739.7v-2.6M501.2 739.7v-2.6M508.6 739.7v-2.6M516.0 739.7v-2.6M523.5 739.7v-2.6M530.9 739.7v-2.6M538.3 739.7v-2.6M545.8 739.7v-2.6M553.2 739.7v-2.6M560.6 739.7v-2.6M568.1 739.7v-2.6M582.8 739.7v-2.6M590.0 739.7v-2.6M597.2 739.7v-2.6M604.5 739.7v-2.6M611.8 739.7v-2.6M619.0 739.7v-2.6M626.2 739.7v-2.6M633.5 739.7v-2.6M640.8 739.7v-2.6M648.0 739.7v-2.6M655.2 739.7v-2.6M670.0 739.7v-2.6M677.4 739.7v-2.6"/>
<text class="n" y="674.5"><tspan x="347.1" textLength="8.3" lengthAdjust="spacingAndGlyphs">−</tspan><tspan x="357.0" textLength="16.6" lengthAdjust="spacingAndGlyphs">10</tspan></text>
<text class="n" y="697.7"><tspan x="347.1" textLength="8.3" lengthAdjust="spacingAndGlyphs">−</tspan><tspan x="357.0" textLength="16.6" lengthAdjust="spacingAndGlyphs">15</tspan></text>
<text class="n" y="720.8"><tspan x="347.1" textLength="8.3" lengthAdjust="spacingAndGlyphs">−</tspan><tspan x="357.0" textLength="16.6" lengthAdjust="spacingAndGlyphs">20</tspan></text>
<text class="n" x="383.8" y="753.5" textLength="33.4" lengthAdjust="spacingAndGlyphs">2019</text>
<text class="n" x="472.1" y="753.5" textLength="33.4" lengthAdjust="spacingAndGlyphs">2020</text>
<text class="n" x="561.0" y="753.5" textLength="33.4" lengthAdjust="spacingAndGlyphs">2021</text>
<text class="n" x="648.9" y="753.5" textLength="33.4" lengthAdjust="spacingAndGlyphs">2022</text>
<rect x="382.9" y="660.5" width="49.1" height="11.4" fill="none" stroke="#262626" stroke-width="1.25" rx="0.6"/>
<path d="M385.8 666.9h19.4" stroke="#0000ff" stroke-width="1.05" fill="none"/>
<text class="l" x="408.9" y="670.8" textLength="21.4" lengthAdjust="spacingAndGlyphs">XRP</text>
</g>
<g>
<path d="M42.9 837.2L42.9 837.1L43.7 840.2L44.4 840.9L45.4 842.1L46.2 843.6L47.4 846.3L48.2 848.3L49.4 846.6L49.9 846.3L50.4 846.5L51.4 844.8L52.4 843.9L53.4 844.1L54.4 843.6L54.9 842.7L55.4 841.9L56.4 842.3L57.4 842.0L58.4 840.6L59.4 842.1L59.9 839.7L60.4 840.1L61.4 837.5L62.4 837.9L63.2 837.1L63.7 835.3L64.4 836.2L65.4 837.1L66.4 835.3L67.4 837.2L68.6 835.3L68.9 837.1L69.4 838.3L70.4 838.2L71.4 839.2L72.4 838.7L73.6 838.6L74.1 833.9L74.9 834.2L75.1 837.1L76.1 842.6L77.4 841.9L78.6 840.6L79.4 839.0L80.4 841.2L81.4 840.1L82.4 839.5L83.4 839.9L84.4 837.2L85.4 837.2L86.1 839.1L87.9 837.1L88.6 831.4L89.9 834.9L90.4 831.9L91.1 830.0L92.9 827.8L93.4 826.7L94.9 826.1L95.4 829.2L96.9 822.5L97.4 822.8L98.6 824.7L99.4 825.4L100.4 822.5L101.1 826.1L102.4 826.6L103.6 827.8L104.4 826.8L105.4 831.1L106.1 826.5L107.4 829.3L108.6 830.3L109.4 830.0L110.4 836.7L111.1 832.1L112.3 833.9L113.4 833.0L114.8 830.0L115.4 829.8L116.4 828.4L117.3 827.3L118.4 826.5L119.8 825.1L120.4 823.5L121.4 823.0L122.3 821.3L123.4 817.3L124.1 815.3L125.4 814.2L126.1 814.0L127.4 813.9L128.6 813.7L129.4 812.9L130.3 807.4L131.4 810.1L132.3 805.7L133.4 805.1L134.8 805.3L135.4 805.6L136.8 806.2L137.4 808.0L138.5 810.1L139.4 812.4L140.3 815.1L141.8 823.5L142.4 824.5L143.5 826.3L144.4 827.0L145.3 827.6L146.4 825.1L147.3 824.5L148.4 823.9L149.8 822.5L150.4 821.7L151.4 821.0L152.3 819.5L153.4 819.1L154.8 817.5L155.4 816.8L156.4 814.1L157.3 813.5L158.4 813.2L159.8 812.6L160.4 812.6L161.4 814.0L162.3 813.6L163.4 816.2L164.8 812.1L165.4 813.0L166.4 813.1L167.2 812.5L168.4 812.6L169.4 811.6L170.7 811.9L171.0 812.2L172.4 812.1L173.4 812.2L174.7 811.0L175.4 811.5L176.4 811.1L177.4 809.8L178.5 810.3L179.4 809.6L180.4 809.4L181.4 809.7L182.2 810.0L183.4 813.6L184.4 809.3L185.4 810.2L186.0 809.6L186.4 808.6L187.2 806.5L188.4 805.8L189.0 800.7L189.4 801.0L190.4 799.0L191.0 798.8L191.4 797.8L192.4 797.7L193.5 796.7L194.4 796.3L195.4 795.6L196.0 796.0L196.4 795.9L197.4 793.0L198.0 792.0L198.4 792.5L199.4 791.9L200.5 790.9L201.4 789.0L202.2 788.8L203.4 787.4L204.0 786.6L204.4 785.1L205.4 784.1L205.9 783.8L206.4 783.4L207.2 782.2L208.4 786.6L209.4 786.7L210.4 787.7L211.4 788.4L212.2 789.8L213.4 798.4L214.4 798.8L215.4 799.7L216.4 798.7L217.2 795.6L218.4 797.1L218.9 797.5L219.4 797.2L220.4 797.7L220.9 798.7L221.4 799.1L222.4 800.5L223.4 802.0L224.7 805.9L225.4 797.0L226.4 798.7L227.2 798.2L228.4 796.1L229.2 808.9L230.4 807.4L231.4 808.5L232.2 809.2L233.4 807.4L234.7 805.3L235.4 806.3L236.4 808.7L237.4 809.7L238.4 809.0L238.9 809.7L239.4 808.6L240.4 808.5L240.9 806.6L241.4 806.5L242.4 805.3L243.4 805.3L244.4 807.7L245.4 808.6L246.4 808.8L247.4 808.9L248.4 809.3L249.4 806.2L250.4 809.9L251.4 810.2L252.9 821.2L253.4 825.0L254.6 822.3L255.9 817.6L256.4 820.1L257.6 823.3L258.9 822.0L259.4 818.3L260.4 811.6L261.4 810.8L262.1 809.6L263.4 810.9L264.6 812.1L265.4 812.6L266.4 812.6L267.1 813.1L268.4 812.7L269.6 811.6L270.4 811.3L271.4 810.2L272.1 810.2L273.4 811.7L274.6 812.7L275.4 814.2L276.4 814.7L277.1 816.4L277.8 808.4L278.4 809.3L279.6 810.1L280.4 813.7L281.3 816.7L282.4 816.6L283.3 815.3L284.4 815.6L285.8 816.7L286.4 817.0L287.4 817.3L288.3 817.9L289.4 817.9L290.8 817.4L291.4 817.3L292.4 822.4L293.3 819.5L294.4 818.0L295.8 815.0L296.4 815.1L297.4 815.9L298.3 815.4L299.4 816.1L300.3 813.3L301.3 803.7L302.8 810.0L303.4 809.8L304.5 808.3L305.8 796.3L306.4 799.5L307.0 803.4L308.8 805.0L309.4 803.2L310.8 800.9L311.4 800.0L312.4 799.4L313.3 798.4L314.4 797.4L315.8 795.8L316.4 793.8L317.4 794.7L318.3 794.3L319.4 795.8L320.8 794.5L321.4 794.6L322.8 795.2L323.8 798.6L324.4 796.8L325.3 796.0L326.4 795.7L327.4 796.7L328.3 795.9L329.8 802.2L330.4 803.8L331.0 804.1L331.0 837.1L331.0 837.2Z" fill="#0000ff" stroke="#0000ff" stroke-width="0.5" stroke-linejoin="round" shape-rendering="crispEdges"/>
<path class="zl" d="M28.0 837.2H336.2"/>
<path class="ax" d="M28.0 771.6V853.2H336.2M28.0 772.2h4.9M28.0 804.6h4.9M28.0 837.2h4.9M28.0 788.3h2.7M28.0 821.1h2.7M50.2 853.2v-5.3M138.0 853.2v-5.3M227.0 853.2v-5.3M315.0 853.2v-5.3M42.9 853.2v-2.6M35.6 853.2v-2.6M57.5 853.2v-2.6M64.8 853.2v-2.6M72.2 853.2v-2.6M79.5 853.2v-2.6M86.8 853.2v-2.6M94.1 853.2v-2.6M101.4 853.2v-2.6M108.7 853.2v-2.6M116.0 853.2v-2.6M123.4 853.2v-2.6M130.7 853.2v-2.6M145.4 853.2v-2.6M152.8 853.2v-2.6M160.2 853.2v-2.6M167.7 853.2v-2.6M175.1 853.2v-2.6M182.5 853.2v-2.6M189.9 853.2v-2.6M197.3 853.2v-2.6M204.8 853.2v-2.6M212.2 853.2v-2.6M219.6 853.2v-2.6M234.3 853.2v-2.6M241.7 853.2v-2.6M249.0 853.2v-2.6M256.3 853.2v-2.6M263.7 853.2v-2.6M271.0 853.2v-2.6M278.3 853.2v-2.6M285.7 853.2v-2.6M293.0 853.2v-2.6M300.3 853.2v-2.6M307.7 853.2v-2.6M322.4 853.2v-2.6M329.9 853.2v-2.6"/>
<text class="n" x="8.5" y="776.3" textLength="16.6" lengthAdjust="spacingAndGlyphs">20</text>
<text class="n" x="8.5" y="808.7" textLength="16.6" lengthAdjust="spacingAndGlyphs">10</text>
<text class="n" x="16.8" y="841.3" textLength="8.3" lengthAdjust="spacingAndGlyphs">0</text>
<text class="n" x="36.5" y="867.0" textLength="33.4" lengthAdjust="spacingAndGlyphs">2019</text>
<text class="n" x="124.3" y="867.0" textLength="33.4" lengthAdjust="spacingAndGlyphs">2020</text>
<text class="n" x="213.2" y="867.0" textLength="33.4" lengthAdjust="spacingAndGlyphs">2021</text>
<text class="n" x="300.3" y="867.0" textLength="33.4" lengthAdjust="spacingAndGlyphs">2022</text>
<rect x="34.5" y="773.7" width="51.5" height="11.6" fill="none" stroke="#262626" stroke-width="1.25" rx="0.6"/>
<path d="M37.4 780.2h19.4" stroke="#0000ff" stroke-width="1.05" fill="none"/>
<text class="l" x="60.5" y="784.1" textLength="23.6" lengthAdjust="spacingAndGlyphs">BCH</text>
</g>
<g>
<path d="M390.4 799.4L390.4 798.9L390.4 791.6L390.9 788.0L391.7 787.3L392.9 786.1L394.2 785.9L394.9 787.4L395.9 787.0L396.7 787.8L397.9 787.0L399.2 787.6L399.9 790.0L400.4 792.5L400.9 793.6L401.9 794.6L402.4 795.2L402.9 795.6L403.9 794.8L404.9 794.5L405.4 794.6L405.9 791.3L406.9 793.8L407.9 794.3L409.2 794.2L409.9 794.5L410.9 794.5L411.9 795.8L412.9 795.2L413.9 795.0L414.9 796.2L415.9 797.6L416.6 795.4L417.9 795.3L419.1 793.5L419.9 790.9L420.9 795.5L421.6 792.1L422.9 792.1L424.1 792.9L424.9 793.5L425.9 794.2L426.6 793.4L427.9 790.4L429.1 791.8L429.9 792.2L430.9 792.6L431.6 790.2L432.9 790.4L434.1 790.3L434.9 791.2L435.9 794.1L436.9 794.4L437.9 795.8L438.9 794.3L439.9 798.9L440.9 800.8L441.6 802.9L442.9 803.3L444.1 801.6L444.9 801.5L445.9 801.5L446.9 800.5L447.8 802.1L448.9 803.3L449.9 802.9L450.9 799.6L451.6 803.1L452.9 802.5L453.9 802.6L455.3 802.7L455.9 802.8L456.9 804.1L457.9 803.8L459.1 803.5L459.9 804.6L460.9 803.7L461.9 801.6L462.8 805.3L463.9 806.2L465.3 807.2L465.9 806.5L466.9 806.4L467.8 805.1L468.9 805.4L470.3 803.7L470.9 803.3L471.9 804.3L472.9 803.6L474.1 803.3L474.9 803.5L475.9 801.4L476.5 805.0L477.9 804.5L479.0 810.1L479.9 810.8L480.9 812.1L481.5 812.1L482.8 813.2L484.0 809.1L484.9 808.4L485.9 807.2L486.5 805.7L487.9 805.5L489.0 803.3L489.9 802.4L490.8 801.1L492.3 798.9L492.8 797.5L493.5 798.9L494.0 801.2L495.0 798.9L495.8 797.2L496.5 798.9L497.3 800.7L497.8 798.9L498.3 796.3L498.9 795.6L499.8 793.6L501.0 789.6L502.3 791.6L503.0 798.9L504.0 809.7L505.3 815.2L505.9 814.9L506.9 816.2L507.8 815.8L508.9 815.3L510.2 814.4L510.9 811.9L511.9 815.1L512.9 811.7L513.7 814.4L514.0 814.7L514.9 816.4L515.9 819.3L516.5 821.0L517.9 822.3L519.0 822.6L519.9 821.7L520.9 822.1L521.9 821.9L522.9 822.7L524.0 822.8L524.9 822.7L525.9 822.9L526.9 819.2L527.9 823.0L529.0 822.1L529.9 822.1L530.9 821.7L531.9 820.9L532.7 820.8L533.9 820.3L535.2 819.2L535.9 820.3L536.9 821.4L537.7 822.6L538.9 819.7L540.2 824.1L540.9 825.2L541.9 825.2L542.7 825.7L543.9 827.5L545.2 828.1L545.9 827.9L546.9 831.2L547.7 829.0L548.9 835.0L549.4 832.1L549.9 834.8L550.9 838.7L551.9 846.4L552.9 836.2L553.9 836.6L555.2 836.5L555.9 835.8L556.9 836.1L557.7 834.9L558.9 834.7L560.2 832.7L560.9 832.3L561.9 831.9L562.7 831.3L563.9 828.4L565.2 828.7L565.9 822.5L566.9 822.7L567.9 820.5L568.9 817.2L569.9 815.7L570.9 814.9L571.4 814.7L571.9 814.1L572.9 814.8L573.9 814.1L574.9 812.8L575.9 813.4L576.4 812.1L576.9 811.6L577.9 810.6L578.9 810.0L579.9 811.8L580.9 815.8L581.4 815.8L581.9 816.0L582.9 813.8L583.9 812.1L584.9 813.9L585.9 811.3L586.4 810.3L586.9 809.9L587.9 809.7L588.9 810.2L589.9 809.6L590.9 809.0L591.4 808.7L591.9 808.2L592.9 807.3L593.9 806.9L594.9 805.7L596.4 804.5L596.9 802.3L597.9 800.6L598.9 803.0L599.9 803.9L601.4 803.9L601.9 803.8L602.9 803.6L603.9 802.8L604.9 802.7L606.4 801.8L606.9 804.1L607.6 806.3L608.9 814.5L609.9 811.5L611.4 814.1L611.9 813.5L612.9 812.0L613.9 811.9L614.9 811.7L616.3 810.7L616.9 810.7L617.9 811.2L618.8 810.9L619.9 810.0L621.3 809.8L621.9 811.1L622.9 811.8L623.8 811.8L624.9 810.8L626.3 811.5L626.9 811.2L627.9 809.9L628.8 808.5L629.9 803.3L630.8 803.2L631.9 801.3L632.6 805.1L633.9 805.2L635.1 808.5L635.9 809.3L636.9 805.8L637.6 810.9L638.9 813.7L640.1 814.4L640.9 815.0L641.9 818.7L642.6 817.3L643.9 818.8L645.1 820.2L645.9 820.2L646.9 821.5L647.5 823.2L648.9 825.3L650.0 823.8L650.9 823.0L651.9 822.8L652.5 822.8L654.3 821.2L655.3 809.7L655.9 806.8L656.8 802.8L658.3 798.9L658.8 796.4L660.0 797.7L660.9 797.2L661.8 797.7L663.3 795.2L663.9 793.8L665.0 794.0L665.9 793.7L666.8 793.7L667.9 795.9L668.8 796.6L669.5 798.9L670.0 799.9L670.5 798.9L671.3 796.4L671.9 792.4L672.9 794.3L673.8 792.5L674.9 792.7L675.8 796.6L677.0 790.4L678.3 794.9L678.8 798.9L678.8 799.4Z" fill="#0000ff" stroke="#0000ff" stroke-width="0.5" stroke-linejoin="round" shape-rendering="crispEdges"/>
<path class="zl" d="M376.5 799.4H686.0"/>
<path class="ax" d="M376.5 771.6V853.2H686.0M376.5 772.2h4.9M376.5 799.4h4.9M376.5 826.7h4.9M376.5 785.7h2.7M376.5 812.9h2.7M376.5 840.2h2.7M398.5 853.2v-5.3M486.3 853.2v-5.3M575.5 853.2v-5.3M662.5 853.2v-5.3M391.2 853.2v-2.6M383.9 853.2v-2.6M405.8 853.2v-2.6M413.1 853.2v-2.6M420.4 853.2v-2.6M427.8 853.2v-2.6M435.1 853.2v-2.6M442.4 853.2v-2.6M449.7 853.2v-2.6M457.0 853.2v-2.6M464.4 853.2v-2.6M471.7 853.2v-2.6M479.0 853.2v-2.6M493.7 853.2v-2.6M501.2 853.2v-2.6M508.6 853.2v-2.6M516.0 853.2v-2.6M523.5 853.2v-2.6M530.9 853.2v-2.6M538.3 853.2v-2.6M545.8 853.2v-2.6M553.2 853.2v-2.6M560.6 853.2v-2.6M568.1 853.2v-2.6M582.8 853.2v-2.6M590.0 853.2v-2.6M597.2 853.2v-2.6M604.5 853.2v-2.6M611.8 853.2v-2.6M619.0 853.2v-2.6M626.2 853.2v-2.6M633.5 853.2v-2.6M640.8 853.2v-2.6M648.0 853.2v-2.6M655.2 853.2v-2.6M670.0 853.2v-2.6M677.4 853.2v-2.6"/>
<text class="n" x="357.0" y="776.3" textLength="16.6" lengthAdjust="spacingAndGlyphs">10</text>
<text class="n" x="365.3" y="803.5" textLength="8.3" lengthAdjust="spacingAndGlyphs">0</text>
<text class="n" y="830.8"><tspan x="347.1" textLength="8.3" lengthAdjust="spacingAndGlyphs">−</tspan><tspan x="357.0" textLength="16.6" lengthAdjust="spacingAndGlyphs">10</tspan></text>
<text class="n" x="383.8" y="867.0" textLength="33.4" lengthAdjust="spacingAndGlyphs">2019</text>
<text class="n" x="472.1" y="867.0" textLength="33.4" lengthAdjust="spacingAndGlyphs">2020</text>
<text class="n" x="561.0" y="867.0" textLength="33.4" lengthAdjust="spacingAndGlyphs">2021</text>
<text class="n" x="648.9" y="867.0" textLength="33.4" lengthAdjust="spacingAndGlyphs">2022</text>
<rect x="382.9" y="773.7" width="46.1" height="11.6" fill="none" stroke="#262626" stroke-width="1.25" rx="0.6"/>
<path d="M385.8 780.2h19.4" stroke="#0000ff" stroke-width="1.05" fill="none"/>
<text class="l" x="408.9" y="784.1" textLength="18.0" lengthAdjust="spacingAndGlyphs">VIX</text>
</g>
<g>
<path d="M42.9 897.4L42.9 897.4L42.9 901.7L43.4 897.7L44.4 903.3L44.9 903.6L45.4 906.6L46.4 904.3L47.4 905.2L48.4 905.1L49.4 902.8L49.9 906.6L50.4 907.5L51.4 907.1L52.4 907.9L53.4 905.9L54.4 909.1L54.9 909.0L55.4 910.5L56.4 905.8L57.4 909.5L58.7 909.2L59.4 909.8L60.4 910.9L61.2 910.2L62.4 909.6L63.7 908.9L64.4 907.9L65.4 905.9L66.4 908.2L67.4 907.8L68.4 907.0L69.4 907.8L70.4 907.1L71.1 907.5L72.4 906.7L73.4 909.1L74.4 907.2L74.9 906.7L75.4 906.7L76.4 906.9L77.4 906.5L78.6 907.6L79.4 907.2L80.4 906.4L81.1 906.0L82.9 908.8L83.4 909.6L84.9 911.3L85.4 910.7L86.4 910.5L87.4 911.6L88.4 911.0L89.9 910.0L90.4 910.3L91.9 908.7L92.4 907.5L93.6 903.3L94.4 900.7L95.4 898.9L96.6 897.4L97.9 893.4L98.4 893.6L99.9 891.4L100.4 891.8L101.8 893.4L102.8 897.4L103.6 901.2L104.4 904.0L105.3 906.0L106.4 907.1L107.3 907.3L108.4 906.2L109.8 904.6L110.4 905.6L111.4 905.7L112.3 906.5L113.4 905.6L114.8 904.6L115.4 905.3L116.4 904.1L117.3 904.7L118.4 905.8L119.8 906.4L120.4 905.3L121.4 905.8L122.3 905.7L123.4 906.8L124.8 906.9L125.4 906.2L126.4 904.8L127.3 904.6L128.4 905.4L129.8 906.3L130.4 906.2L131.4 907.1L132.3 908.3L133.4 910.3L134.0 912.0L135.3 916.5L136.8 908.5L137.4 903.6L138.5 902.1L139.4 902.2L140.3 900.6L141.4 897.4L142.3 899.8L143.4 900.0L144.3 901.6L145.4 904.1L146.0 906.1L147.4 907.7L148.5 907.1L149.4 911.9L150.4 910.4L151.0 911.5L152.8 912.7L153.4 912.3L154.3 910.9L155.3 927.1L156.4 928.1L157.3 929.9L158.4 930.6L159.8 932.3L160.4 933.7L161.4 933.4L162.3 934.6L163.4 931.2L164.3 935.7L165.4 940.5L166.0 942.0L167.2 937.3L168.4 938.6L169.7 936.6L170.7 936.3L171.0 937.5L172.4 940.7L173.5 939.2L174.4 940.8L175.4 941.3L176.0 941.3L177.4 942.3L178.5 944.0L179.4 942.3L180.4 945.6L181.0 945.8L181.4 948.7L182.4 946.6L183.5 946.5L184.4 947.8L185.4 947.9L186.0 948.0L186.4 946.9L187.4 946.1L188.5 946.3L189.4 946.6L190.4 948.3L191.0 947.9L191.4 948.2L192.4 948.3L193.5 949.5L194.4 950.8L195.4 951.3L196.0 951.1L196.4 951.4L197.4 953.4L198.0 954.7L198.4 955.8L199.7 957.5L200.4 957.2L201.5 958.4L202.4 960.2L203.0 959.7L203.4 962.0L204.2 966.9L205.2 953.8L206.4 956.1L207.4 954.5L208.4 954.7L209.4 953.6L210.4 953.7L210.9 953.2L211.4 952.6L212.4 948.5L213.4 951.5L214.7 940.1L215.4 942.7L215.9 943.2L216.4 942.7L217.4 941.1L217.9 940.5L218.4 939.7L219.7 939.8L220.4 938.8L221.4 936.7L222.2 936.1L223.4 934.6L224.7 933.6L225.4 930.3L226.4 927.6L227.4 924.7L227.9 922.6L228.4 921.8L229.7 918.8L230.4 918.8L231.4 917.9L232.2 919.9L233.4 920.2L234.7 920.7L235.4 923.5L235.9 923.4L236.4 922.2L237.4 920.0L237.9 919.7L238.4 920.1L239.6 919.9L240.4 921.3L241.4 923.9L242.4 923.9L243.4 922.9L244.4 919.6L245.4 919.7L245.9 919.7L246.4 916.4L247.4 919.3L248.4 918.4L249.4 917.4L250.9 916.4L251.4 912.0L252.4 915.2L253.4 913.9L254.4 913.0L255.9 912.1L256.4 911.4L257.4 908.0L258.4 911.3L259.4 908.9L260.4 907.3L261.4 911.6L262.1 913.6L263.4 913.3L264.6 912.5L265.4 912.7L266.4 911.2L267.1 911.5L268.4 910.8L269.6 911.6L270.4 911.1L271.4 910.2L272.1 909.9L273.8 909.3L274.4 910.1L275.3 915.3L276.4 917.2L277.1 918.5L278.8 922.8L279.4 921.3L280.8 919.6L281.4 919.7L282.4 918.8L283.3 918.9L284.4 915.6L285.3 913.3L286.4 910.7L287.1 909.8L288.8 905.3L289.4 905.2L290.8 906.0L291.4 906.4L292.4 906.5L293.3 905.4L294.4 907.2L295.8 907.3L296.4 906.8L297.4 907.3L298.3 907.8L299.4 907.2L300.8 907.3L301.4 907.8L302.4 908.9L303.3 910.0L304.4 911.5L305.3 913.8L306.3 930.8L307.4 930.4L308.3 929.5L309.4 928.5L310.3 926.0L311.4 926.9L312.0 927.2L313.4 929.0L314.5 929.7L315.8 936.5L316.4 936.0L317.8 939.4L318.4 940.4L319.5 942.9L320.4 943.9L321.4 944.0L322.0 943.8L323.8 939.7L324.4 941.5L325.3 944.0L326.4 946.9L327.0 947.7L328.8 950.6L329.4 946.3L330.0 942.4L331.0 940.8L331.3 897.4L331.3 897.4Z" fill="#0000ff" stroke="#0000ff" stroke-width="0.5" stroke-linejoin="round" shape-rendering="crispEdges"/>
<path class="zl" d="M28.0 897.4H336.2"/>
<path class="ax" d="M28.0 884.6V967.3H336.2M28.0 897.4h4.9M28.0 941.7h4.9M28.0 888.7h2.7M28.0 906.6h2.7M28.0 915.2h2.7M28.0 923.9h2.7M28.0 932.5h2.7M28.0 950.4h2.7M28.0 959.0h2.7M50.2 967.3v-5.3M138.0 967.3v-5.3M227.0 967.3v-5.3M315.0 967.3v-5.3M42.9 967.3v-2.6M35.6 967.3v-2.6M57.5 967.3v-2.6M64.8 967.3v-2.6M72.2 967.3v-2.6M79.5 967.3v-2.6M86.8 967.3v-2.6M94.1 967.3v-2.6M101.4 967.3v-2.6M108.7 967.3v-2.6M116.0 967.3v-2.6M123.4 967.3v-2.6M130.7 967.3v-2.6M145.4 967.3v-2.6M152.8 967.3v-2.6M160.2 967.3v-2.6M167.7 967.3v-2.6M175.1 967.3v-2.6M182.5 967.3v-2.6M189.9 967.3v-2.6M197.3 967.3v-2.6M204.8 967.3v-2.6M212.2 967.3v-2.6M219.6 967.3v-2.6M234.3 967.3v-2.6M241.7 967.3v-2.6M249.0 967.3v-2.6M256.3 967.3v-2.6M263.7 967.3v-2.6M271.0 967.3v-2.6M278.3 967.3v-2.6M285.7 967.3v-2.6M293.0 967.3v-2.6M300.3 967.3v-2.6M307.7 967.3v-2.6M322.4 967.3v-2.6M329.9 967.3v-2.6"/>
<text class="n" x="16.8" y="901.5" textLength="8.3" lengthAdjust="spacingAndGlyphs">0</text>
<text class="n" y="945.8"><tspan x="-0.8" textLength="8.3" lengthAdjust="spacingAndGlyphs">−</tspan><tspan x="8.5" textLength="16.6" lengthAdjust="spacingAndGlyphs">10</tspan></text>
<text class="n" x="36.5" y="981.1" textLength="33.4" lengthAdjust="spacingAndGlyphs">2019</text>
<text class="n" x="124.3" y="981.1" textLength="33.4" lengthAdjust="spacingAndGlyphs">2020</text>
<text class="n" x="213.2" y="981.1" textLength="33.4" lengthAdjust="spacingAndGlyphs">2021</text>
<text class="n" x="300.3" y="981.1" textLength="33.4" lengthAdjust="spacingAndGlyphs">2022</text>
<rect x="34.5" y="886.5" width="48.9" height="11.5" fill="none" stroke="#262626" stroke-width="1.25" rx="0.6"/>
<path d="M37.4 892.9h19.4" stroke="#0000ff" stroke-width="1.05" fill="none"/>
<text class="l" x="60.5" y="896.8" textLength="20.8" lengthAdjust="spacingAndGlyphs">OVX</text>
</g>
<g>
<path d="M390.4 896.4L390.4 896.7L390.4 899.8L390.9 899.8L391.9 899.3L392.9 899.5L394.2 900.3L394.4 904.9L394.9 905.0L395.2 896.7L395.9 893.5L396.7 891.6L397.9 888.0L398.4 887.2L398.9 886.6L399.9 887.6L400.4 887.0L400.9 887.0L401.9 889.3L402.4 889.9L402.9 890.5L404.2 893.4L404.9 894.0L405.4 894.6L405.9 896.4L406.9 895.7L407.9 896.4L408.9 894.7L409.9 894.9L410.4 896.7L410.9 899.8L411.9 898.1L412.9 900.2L413.9 903.2L414.9 900.5L415.4 901.4L415.9 901.6L416.9 901.1L417.9 900.7L418.9 897.8L419.9 900.1L420.4 896.7L420.9 894.7L421.9 894.5L422.9 894.3L423.9 895.3L424.9 895.3L425.9 892.8L426.6 894.4L427.9 892.2L428.9 894.7L429.9 895.6L430.9 896.4L432.4 895.4L433.4 894.7L433.9 894.8L434.9 892.5L435.9 893.3L436.6 893.8L437.9 892.7L438.9 896.7L440.4 901.1L440.9 903.3L441.6 905.0L442.9 899.3L444.1 902.7L444.9 903.5L445.9 903.4L446.6 903.4L447.8 905.1L448.9 902.6L450.3 901.6L450.9 901.4L451.9 900.6L452.9 900.3L454.1 900.1L454.9 899.7L455.9 899.3L456.6 899.3L457.9 898.1L459.1 897.4L459.8 896.7L460.9 896.4L461.6 893.6L462.9 893.5L463.9 896.4L465.3 893.4L465.9 893.3L466.9 896.4L467.9 893.0L469.1 891.9L469.9 891.8L470.9 892.2L471.6 891.5L472.9 895.0L474.1 893.0L474.9 893.2L475.9 893.3L476.5 892.4L477.9 892.8L479.0 891.6L479.9 894.5L480.9 891.3L481.5 890.7L483.3 893.1L483.9 894.7L485.3 896.2L485.5 896.7L486.0 899.0L486.9 896.4L487.8 898.5L488.5 896.7L489.3 894.0L489.9 892.9L490.9 893.8L491.8 893.5L492.3 896.7L493.0 897.7L493.9 897.2L495.3 898.2L495.8 896.7L496.3 894.8L496.9 893.8L497.8 894.1L498.0 896.7L498.5 902.5L499.9 901.9L500.5 902.4L501.0 896.7L501.5 885.9L503.0 885.8L503.3 896.7L504.0 922.6L505.3 926.0L505.9 928.2L506.9 926.9L507.8 931.5L508.9 932.4L509.7 933.3L510.9 927.5L511.5 929.5L512.9 932.5L513.7 933.8L514.0 934.6L514.9 933.1L515.9 932.4L516.5 932.5L517.9 931.4L519.0 930.2L519.9 930.0L520.9 930.6L521.5 929.9L522.9 931.7L524.0 931.0L525.2 936.4L525.9 934.7L526.9 934.0L527.7 934.0L528.9 934.5L530.2 934.4L530.9 934.8L531.9 933.9L532.7 933.2L533.9 934.4L535.2 936.4L535.9 935.3L536.9 933.4L537.7 932.6L538.9 932.8L540.2 931.7L540.9 932.6L541.9 932.4L542.7 934.1L543.9 932.8L545.2 931.0L545.9 932.3L546.9 934.1L547.7 934.5L548.9 932.5L550.2 933.3L550.9 935.9L551.4 938.8L552.2 911.5L552.9 911.0L553.9 911.8L555.2 910.9L555.9 911.9L556.9 911.6L557.7 911.7L558.9 911.7L560.2 913.4L560.9 914.9L561.9 918.6L562.7 918.4L563.9 920.1L565.2 921.5L565.9 921.0L566.9 920.9L567.7 919.4L568.9 921.8L569.9 919.7L570.9 919.1L571.4 919.1L571.9 919.2L572.9 918.8L573.9 918.7L575.2 918.7L575.9 917.9L576.9 917.1L577.7 916.9L578.9 915.8L580.2 913.3L580.9 913.9L581.9 913.0L582.6 912.8L583.9 913.9L585.1 915.9L585.9 917.2L586.9 915.7L587.6 918.3L588.9 919.0L590.1 919.0L590.9 919.3L591.9 917.9L592.6 917.8L593.9 919.7L595.1 916.1L595.9 914.7L596.9 916.8L597.6 917.0L598.9 915.8L600.1 915.4L600.9 913.7L601.9 913.4L602.6 912.6L603.9 911.8L605.1 912.0L605.9 911.6L606.9 910.5L607.6 910.8L608.9 912.1L610.1 913.2L610.9 914.1L611.9 913.2L612.6 914.1L613.9 912.4L615.1 912.0L615.9 911.0L616.8 908.3L618.3 913.7L618.9 912.7L620.1 909.8L620.9 911.0L621.8 913.7L623.3 910.4L623.9 915.1L625.1 915.8L625.9 915.8L626.8 917.1L628.3 907.9L628.9 906.5L630.1 905.4L630.9 907.0L631.8 908.8L632.9 907.3L633.8 905.9L634.9 905.2L635.8 904.1L636.9 906.5L637.6 908.7L639.3 914.0L639.9 914.7L641.3 915.3L641.9 915.9L642.9 915.9L643.8 915.9L644.9 914.9L646.3 914.6L646.9 915.8L647.9 917.7L648.8 919.0L649.9 920.5L651.3 916.5L651.9 917.6L653.3 918.4L653.9 923.9L654.5 926.9L656.3 920.3L656.9 919.6L658.3 917.6L658.9 918.5L660.0 921.4L660.9 922.7L661.8 923.5L663.3 927.2L664.3 935.8L664.9 937.5L665.8 940.9L666.9 943.3L667.5 944.8L668.9 945.7L670.0 946.4L670.9 941.9L671.9 942.4L672.5 946.1L673.8 951.1L675.0 954.6L676.3 958.0L677.3 947.4L678.3 945.2L678.5 896.7L678.5 896.4Z" fill="#0000ff" stroke="#0000ff" stroke-width="0.5" stroke-linejoin="round" shape-rendering="crispEdges"/>
<path class="zl" d="M376.5 896.4H686.0"/>
<path class="ax" d="M376.5 883.9V967.4H686.0M376.5 896.4h4.9M376.5 919.6h4.9M376.5 944.3h4.9M376.5 908.1h2.7M376.5 931.2h2.7M376.5 955.6h2.7M376.5 884.5h2.7M398.5 967.4v-5.3M486.3 967.4v-5.3M575.5 967.4v-5.3M662.5 967.4v-5.3M391.2 967.4v-2.6M383.9 967.4v-2.6M405.8 967.4v-2.6M413.1 967.4v-2.6M420.4 967.4v-2.6M427.8 967.4v-2.6M435.1 967.4v-2.6M442.4 967.4v-2.6M449.7 967.4v-2.6M457.0 967.4v-2.6M464.4 967.4v-2.6M471.7 967.4v-2.6M479.0 967.4v-2.6M493.7 967.4v-2.6M501.2 967.4v-2.6M508.6 967.4v-2.6M516.0 967.4v-2.6M523.5 967.4v-2.6M530.9 967.4v-2.6M538.3 967.4v-2.6M545.8 967.4v-2.6M553.2 967.4v-2.6M560.6 967.4v-2.6M568.1 967.4v-2.6M582.8 967.4v-2.6M590.0 967.4v-2.6M597.2 967.4v-2.6M604.5 967.4v-2.6M611.8 967.4v-2.6M619.0 967.4v-2.6M626.2 967.4v-2.6M633.5 967.4v-2.6M640.8 967.4v-2.6M648.0 967.4v-2.6M655.2 967.4v-2.6M670.0 967.4v-2.6M677.4 967.4v-2.6"/>
<text class="n" x="365.3" y="900.5" textLength="8.3" lengthAdjust="spacingAndGlyphs">0</text>
<text class="n" y="923.7"><tspan x="355.4" textLength="8.3" lengthAdjust="spacingAndGlyphs">−</tspan><tspan x="365.3" textLength="8.3" lengthAdjust="spacingAndGlyphs">5</tspan></text>
<text class="n" y="948.4"><tspan x="347.1" textLength="8.3" lengthAdjust="spacingAndGlyphs">−</tspan><tspan x="357.0" textLength="16.6" lengthAdjust="spacingAndGlyphs">10</tspan></text>
<text class="n" x="383.8" y="981.2" textLength="33.4" lengthAdjust="spacingAndGlyphs">2019</text>
<text class="n" x="472.1" y="981.2" textLength="33.4" lengthAdjust="spacingAndGlyphs">2020</text>
<text class="n" x="561.0" y="981.2" textLength="33.4" lengthAdjust="spacingAndGlyphs">2021</text>
<text class="n" x="648.9" y="981.2" textLength="33.4" lengthAdjust="spacingAndGlyphs">2022</text>
<rect x="382.9" y="886.5" width="50.5" height="11.5" fill="none" stroke="#262626" stroke-width="1.25" rx="0.6"/>
<path d="M385.8 892.9h19.4" stroke="#0000ff" stroke-width="1.05" fill="none"/>
<text class="l" x="408.9" y="896.8" textLength="22.6" lengthAdjust="spacingAndGlyphs">GVZ</text>
</g>
</svg>
</body></html>
